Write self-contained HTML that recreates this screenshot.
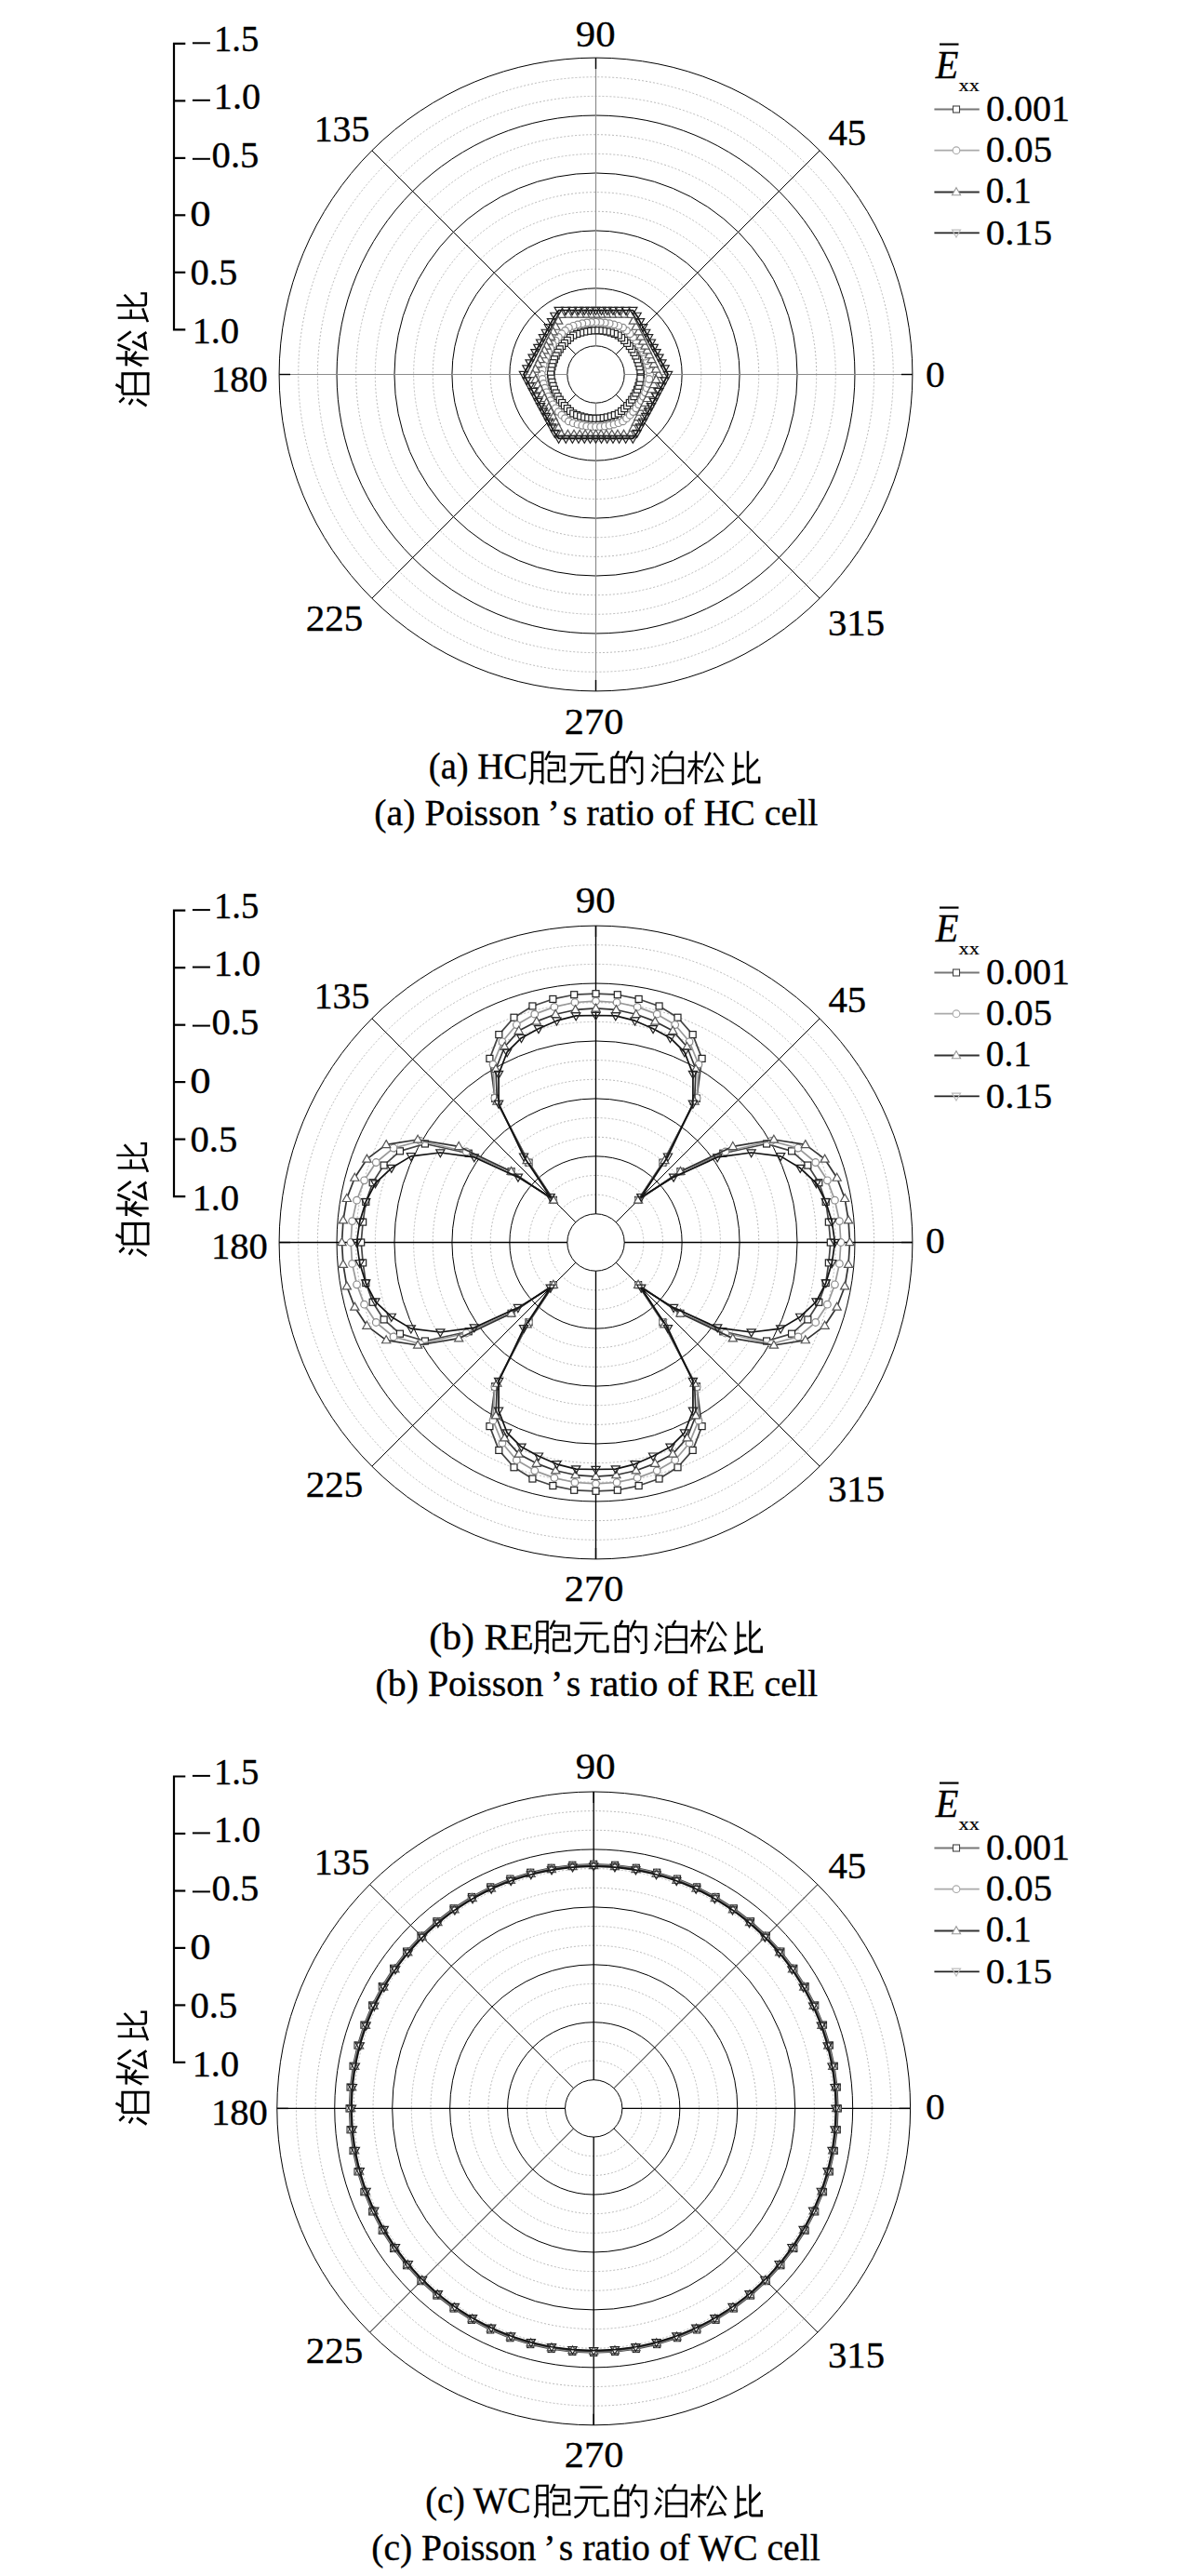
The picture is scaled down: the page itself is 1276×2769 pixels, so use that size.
<!DOCTYPE html><html><head><meta charset="utf-8"><style>html,body{margin:0;padding:0;background:#fff}svg{display:block}text{font-family:"Liberation Serif",serif;fill:#000}</style></head><body>
<svg width="1276" height="2769" viewBox="0 0 1276 2769">
<rect width="1276" height="2769" fill="#fff"/>
<circle cx="640.50" cy="402.50" r="51.35" fill="none" stroke="#a8a8a8" stroke-width="0.8" stroke-dasharray="2 2"/>
<circle cx="640.50" cy="402.50" r="71.99" fill="none" stroke="#a8a8a8" stroke-width="0.8" stroke-dasharray="2 2"/>
<circle cx="640.50" cy="402.50" r="113.29" fill="none" stroke="#a8a8a8" stroke-width="0.8" stroke-dasharray="2 2"/>
<circle cx="640.50" cy="402.50" r="133.93" fill="none" stroke="#a8a8a8" stroke-width="0.8" stroke-dasharray="2 2"/>
<circle cx="640.50" cy="402.50" r="175.23" fill="none" stroke="#a8a8a8" stroke-width="0.8" stroke-dasharray="2 2"/>
<circle cx="640.50" cy="402.50" r="195.87" fill="none" stroke="#a8a8a8" stroke-width="0.8" stroke-dasharray="2 2"/>
<circle cx="640.50" cy="402.50" r="237.17" fill="none" stroke="#a8a8a8" stroke-width="0.8" stroke-dasharray="2 2"/>
<circle cx="640.50" cy="402.50" r="257.81" fill="none" stroke="#a8a8a8" stroke-width="0.8" stroke-dasharray="2 2"/>
<circle cx="640.50" cy="402.50" r="299.11" fill="none" stroke="#a8a8a8" stroke-width="0.8" stroke-dasharray="2 2"/>
<circle cx="640.50" cy="402.50" r="319.75" fill="none" stroke="#a8a8a8" stroke-width="0.8" stroke-dasharray="2 2"/>
<circle cx="640.50" cy="402.50" r="30.70" fill="none" stroke="#000" stroke-width="1.0"/>
<circle cx="640.50" cy="402.50" r="92.64" fill="none" stroke="#000" stroke-width="1.0"/>
<circle cx="640.50" cy="402.50" r="154.58" fill="none" stroke="#000" stroke-width="1.0"/>
<circle cx="640.50" cy="402.50" r="216.52" fill="none" stroke="#000" stroke-width="1.0"/>
<circle cx="640.50" cy="402.50" r="278.46" fill="none" stroke="#000" stroke-width="1.0"/>
<circle cx="640.50" cy="402.50" r="340.40" fill="none" stroke="#000" stroke-width="1.0"/>
<line x1="671.20" y1="402.50" x2="980.90" y2="402.50" stroke="#8c8c8c" stroke-width="1.20"/>
<line x1="968.90" y1="402.50" x2="980.90" y2="402.50" stroke="#000" stroke-width="1.40"/>
<line x1="640.50" y1="371.80" x2="640.50" y2="62.10" stroke="#8c8c8c" stroke-width="1.20"/>
<line x1="640.50" y1="74.10" x2="640.50" y2="62.10" stroke="#000" stroke-width="1.40"/>
<line x1="609.80" y1="402.50" x2="300.10" y2="402.50" stroke="#8c8c8c" stroke-width="1.20"/>
<line x1="312.10" y1="402.50" x2="300.10" y2="402.50" stroke="#000" stroke-width="1.40"/>
<line x1="640.50" y1="433.20" x2="640.50" y2="742.90" stroke="#8c8c8c" stroke-width="1.20"/>
<line x1="640.50" y1="730.90" x2="640.50" y2="742.90" stroke="#000" stroke-width="1.40"/>
<line x1="662.21" y1="380.79" x2="881.20" y2="161.80" stroke="#000" stroke-width="1.0"/>
<line x1="618.79" y1="380.79" x2="399.80" y2="161.80" stroke="#000" stroke-width="1.0"/>
<line x1="618.79" y1="424.21" x2="399.80" y2="643.20" stroke="#000" stroke-width="1.0"/>
<line x1="662.21" y1="424.21" x2="881.20" y2="643.20" stroke="#000" stroke-width="1.0"/>
<path d="M689.00 402.50 L688.42 398.31 L687.57 394.20 L686.45 390.19 L685.06 386.28 L683.40 382.50 L681.46 378.85 L679.27 375.35 L676.83 372.02 L674.14 368.86 L671.22 365.88 L668.09 363.10 L664.75 360.50 L660.83 358.90 L656.85 357.58 L652.81 356.55 L648.73 355.80 L644.63 355.35 L640.50 355.20 L636.37 355.35 L632.27 355.80 L628.19 356.55 L624.15 357.58 L620.17 358.90 L616.25 360.50 L612.91 363.10 L609.78 365.88 L606.86 368.86 L604.17 372.02 L601.73 375.35 L599.54 378.85 L597.60 382.50 L595.94 386.28 L594.55 390.19 L593.43 394.20 L592.58 398.31 L592.00 402.50 L592.58 406.69 L593.43 410.80 L594.55 414.81 L595.94 418.72 L597.60 422.50 L599.54 426.15 L601.73 429.65 L604.17 432.98 L606.86 436.14 L609.78 439.12 L612.91 441.90 L616.25 444.50 L620.17 446.10 L624.15 447.42 L628.19 448.45 L632.27 449.20 L636.37 449.65 L640.50 449.80 L644.63 449.65 L648.73 449.20 L652.81 448.45 L656.85 447.42 L660.83 446.10 L664.75 444.50 L668.09 441.90 L671.22 439.12 L674.14 436.14 L676.83 432.98 L679.27 429.65 L681.46 426.15 L683.40 422.50 L685.06 418.72 L686.45 414.81 L687.57 410.80 L688.42 406.69 Z" fill="none" stroke="#444" stroke-width="1.70" stroke-linejoin="round"/>
<rect x="685.50" y="399.00" width="7" height="7" fill="#fff" stroke="#222" stroke-width="1.2"/>
<rect x="684.92" y="394.81" width="7" height="7" fill="#fff" stroke="#222" stroke-width="1.2"/>
<rect x="684.07" y="390.70" width="7" height="7" fill="#fff" stroke="#222" stroke-width="1.2"/>
<rect x="682.95" y="386.69" width="7" height="7" fill="#fff" stroke="#222" stroke-width="1.2"/>
<rect x="681.56" y="382.78" width="7" height="7" fill="#fff" stroke="#222" stroke-width="1.2"/>
<rect x="679.90" y="379.00" width="7" height="7" fill="#fff" stroke="#222" stroke-width="1.2"/>
<rect x="677.96" y="375.35" width="7" height="7" fill="#fff" stroke="#222" stroke-width="1.2"/>
<rect x="675.77" y="371.85" width="7" height="7" fill="#fff" stroke="#222" stroke-width="1.2"/>
<rect x="673.33" y="368.52" width="7" height="7" fill="#fff" stroke="#222" stroke-width="1.2"/>
<rect x="670.64" y="365.36" width="7" height="7" fill="#fff" stroke="#222" stroke-width="1.2"/>
<rect x="667.72" y="362.38" width="7" height="7" fill="#fff" stroke="#222" stroke-width="1.2"/>
<rect x="664.59" y="359.60" width="7" height="7" fill="#fff" stroke="#222" stroke-width="1.2"/>
<rect x="661.25" y="357.00" width="7" height="7" fill="#fff" stroke="#222" stroke-width="1.2"/>
<rect x="657.33" y="355.40" width="7" height="7" fill="#fff" stroke="#222" stroke-width="1.2"/>
<rect x="653.35" y="354.08" width="7" height="7" fill="#fff" stroke="#222" stroke-width="1.2"/>
<rect x="649.31" y="353.05" width="7" height="7" fill="#fff" stroke="#222" stroke-width="1.2"/>
<rect x="645.23" y="352.30" width="7" height="7" fill="#fff" stroke="#222" stroke-width="1.2"/>
<rect x="641.13" y="351.85" width="7" height="7" fill="#fff" stroke="#222" stroke-width="1.2"/>
<rect x="637.00" y="351.70" width="7" height="7" fill="#fff" stroke="#222" stroke-width="1.2"/>
<rect x="632.87" y="351.85" width="7" height="7" fill="#fff" stroke="#222" stroke-width="1.2"/>
<rect x="628.77" y="352.30" width="7" height="7" fill="#fff" stroke="#222" stroke-width="1.2"/>
<rect x="624.69" y="353.05" width="7" height="7" fill="#fff" stroke="#222" stroke-width="1.2"/>
<rect x="620.65" y="354.08" width="7" height="7" fill="#fff" stroke="#222" stroke-width="1.2"/>
<rect x="616.67" y="355.40" width="7" height="7" fill="#fff" stroke="#222" stroke-width="1.2"/>
<rect x="612.75" y="357.00" width="7" height="7" fill="#fff" stroke="#222" stroke-width="1.2"/>
<rect x="609.41" y="359.60" width="7" height="7" fill="#fff" stroke="#222" stroke-width="1.2"/>
<rect x="606.28" y="362.38" width="7" height="7" fill="#fff" stroke="#222" stroke-width="1.2"/>
<rect x="603.36" y="365.36" width="7" height="7" fill="#fff" stroke="#222" stroke-width="1.2"/>
<rect x="600.67" y="368.52" width="7" height="7" fill="#fff" stroke="#222" stroke-width="1.2"/>
<rect x="598.23" y="371.85" width="7" height="7" fill="#fff" stroke="#222" stroke-width="1.2"/>
<rect x="596.04" y="375.35" width="7" height="7" fill="#fff" stroke="#222" stroke-width="1.2"/>
<rect x="594.10" y="379.00" width="7" height="7" fill="#fff" stroke="#222" stroke-width="1.2"/>
<rect x="592.44" y="382.78" width="7" height="7" fill="#fff" stroke="#222" stroke-width="1.2"/>
<rect x="591.05" y="386.69" width="7" height="7" fill="#fff" stroke="#222" stroke-width="1.2"/>
<rect x="589.93" y="390.70" width="7" height="7" fill="#fff" stroke="#222" stroke-width="1.2"/>
<rect x="589.08" y="394.81" width="7" height="7" fill="#fff" stroke="#222" stroke-width="1.2"/>
<rect x="588.50" y="399.00" width="7" height="7" fill="#fff" stroke="#222" stroke-width="1.2"/>
<rect x="589.08" y="403.19" width="7" height="7" fill="#fff" stroke="#222" stroke-width="1.2"/>
<rect x="589.93" y="407.30" width="7" height="7" fill="#fff" stroke="#222" stroke-width="1.2"/>
<rect x="591.05" y="411.31" width="7" height="7" fill="#fff" stroke="#222" stroke-width="1.2"/>
<rect x="592.44" y="415.22" width="7" height="7" fill="#fff" stroke="#222" stroke-width="1.2"/>
<rect x="594.10" y="419.00" width="7" height="7" fill="#fff" stroke="#222" stroke-width="1.2"/>
<rect x="596.04" y="422.65" width="7" height="7" fill="#fff" stroke="#222" stroke-width="1.2"/>
<rect x="598.23" y="426.15" width="7" height="7" fill="#fff" stroke="#222" stroke-width="1.2"/>
<rect x="600.67" y="429.48" width="7" height="7" fill="#fff" stroke="#222" stroke-width="1.2"/>
<rect x="603.36" y="432.64" width="7" height="7" fill="#fff" stroke="#222" stroke-width="1.2"/>
<rect x="606.28" y="435.62" width="7" height="7" fill="#fff" stroke="#222" stroke-width="1.2"/>
<rect x="609.41" y="438.40" width="7" height="7" fill="#fff" stroke="#222" stroke-width="1.2"/>
<rect x="612.75" y="441.00" width="7" height="7" fill="#fff" stroke="#222" stroke-width="1.2"/>
<rect x="616.67" y="442.60" width="7" height="7" fill="#fff" stroke="#222" stroke-width="1.2"/>
<rect x="620.65" y="443.92" width="7" height="7" fill="#fff" stroke="#222" stroke-width="1.2"/>
<rect x="624.69" y="444.95" width="7" height="7" fill="#fff" stroke="#222" stroke-width="1.2"/>
<rect x="628.77" y="445.70" width="7" height="7" fill="#fff" stroke="#222" stroke-width="1.2"/>
<rect x="632.87" y="446.15" width="7" height="7" fill="#fff" stroke="#222" stroke-width="1.2"/>
<rect x="637.00" y="446.30" width="7" height="7" fill="#fff" stroke="#222" stroke-width="1.2"/>
<rect x="641.13" y="446.15" width="7" height="7" fill="#fff" stroke="#222" stroke-width="1.2"/>
<rect x="645.23" y="445.70" width="7" height="7" fill="#fff" stroke="#222" stroke-width="1.2"/>
<rect x="649.31" y="444.95" width="7" height="7" fill="#fff" stroke="#222" stroke-width="1.2"/>
<rect x="653.35" y="443.92" width="7" height="7" fill="#fff" stroke="#222" stroke-width="1.2"/>
<rect x="657.33" y="442.60" width="7" height="7" fill="#fff" stroke="#222" stroke-width="1.2"/>
<rect x="661.25" y="441.00" width="7" height="7" fill="#fff" stroke="#222" stroke-width="1.2"/>
<rect x="664.59" y="438.40" width="7" height="7" fill="#fff" stroke="#222" stroke-width="1.2"/>
<rect x="667.72" y="435.62" width="7" height="7" fill="#fff" stroke="#222" stroke-width="1.2"/>
<rect x="670.64" y="432.64" width="7" height="7" fill="#fff" stroke="#222" stroke-width="1.2"/>
<rect x="673.33" y="429.48" width="7" height="7" fill="#fff" stroke="#222" stroke-width="1.2"/>
<rect x="675.77" y="426.15" width="7" height="7" fill="#fff" stroke="#222" stroke-width="1.2"/>
<rect x="677.96" y="422.65" width="7" height="7" fill="#fff" stroke="#222" stroke-width="1.2"/>
<rect x="679.90" y="419.00" width="7" height="7" fill="#fff" stroke="#222" stroke-width="1.2"/>
<rect x="681.56" y="415.22" width="7" height="7" fill="#fff" stroke="#222" stroke-width="1.2"/>
<rect x="682.95" y="411.31" width="7" height="7" fill="#fff" stroke="#222" stroke-width="1.2"/>
<rect x="684.07" y="407.30" width="7" height="7" fill="#fff" stroke="#222" stroke-width="1.2"/>
<rect x="684.92" y="403.19" width="7" height="7" fill="#fff" stroke="#222" stroke-width="1.2"/>
<path d="M698.70 402.50 L697.85 397.48 L696.72 392.59 L695.30 387.82 L693.58 383.18 L691.57 378.69 L689.26 374.35 L686.66 370.18 L683.77 366.19 L680.62 362.38 L677.20 358.77 L673.52 355.34 L669.60 352.10 L664.83 350.32 L660.03 348.85 L655.18 347.70 L650.31 346.87 L645.41 346.37 L640.50 346.20 L635.59 346.37 L630.69 346.87 L625.82 347.70 L620.97 348.85 L616.17 350.32 L611.40 352.10 L607.48 355.34 L603.80 358.77 L600.38 362.38 L597.23 366.19 L594.34 370.18 L591.74 374.35 L589.43 378.69 L587.42 383.18 L585.70 387.82 L584.28 392.59 L583.15 397.48 L582.30 402.50 L583.15 407.52 L584.28 412.41 L585.70 417.18 L587.42 421.82 L589.43 426.31 L591.74 430.65 L594.34 434.82 L597.23 438.81 L600.38 442.62 L603.80 446.23 L607.48 449.66 L611.40 452.90 L616.17 454.68 L620.97 456.15 L625.82 457.30 L630.69 458.13 L635.59 458.63 L640.50 458.80 L645.41 458.63 L650.31 458.13 L655.18 457.30 L660.03 456.15 L664.83 454.68 L669.60 452.90 L673.52 449.66 L677.20 446.23 L680.62 442.62 L683.77 438.81 L686.66 434.82 L689.26 430.65 L691.57 426.31 L693.58 421.82 L695.30 417.18 L696.72 412.41 L697.85 407.52 Z" fill="none" stroke="#999" stroke-width="1.70" stroke-linejoin="round"/>
<circle cx="698.70" cy="402.50" r="3.8" fill="#fff" stroke="#8a8a8a" stroke-width="1.2"/>
<circle cx="697.85" cy="397.48" r="3.8" fill="#fff" stroke="#8a8a8a" stroke-width="1.2"/>
<circle cx="696.72" cy="392.59" r="3.8" fill="#fff" stroke="#8a8a8a" stroke-width="1.2"/>
<circle cx="695.30" cy="387.82" r="3.8" fill="#fff" stroke="#8a8a8a" stroke-width="1.2"/>
<circle cx="693.58" cy="383.18" r="3.8" fill="#fff" stroke="#8a8a8a" stroke-width="1.2"/>
<circle cx="691.57" cy="378.69" r="3.8" fill="#fff" stroke="#8a8a8a" stroke-width="1.2"/>
<circle cx="689.26" cy="374.35" r="3.8" fill="#fff" stroke="#8a8a8a" stroke-width="1.2"/>
<circle cx="686.66" cy="370.18" r="3.8" fill="#fff" stroke="#8a8a8a" stroke-width="1.2"/>
<circle cx="683.77" cy="366.19" r="3.8" fill="#fff" stroke="#8a8a8a" stroke-width="1.2"/>
<circle cx="680.62" cy="362.38" r="3.8" fill="#fff" stroke="#8a8a8a" stroke-width="1.2"/>
<circle cx="677.20" cy="358.77" r="3.8" fill="#fff" stroke="#8a8a8a" stroke-width="1.2"/>
<circle cx="673.52" cy="355.34" r="3.8" fill="#fff" stroke="#8a8a8a" stroke-width="1.2"/>
<circle cx="669.60" cy="352.10" r="3.8" fill="#fff" stroke="#8a8a8a" stroke-width="1.2"/>
<circle cx="664.83" cy="350.32" r="3.8" fill="#fff" stroke="#8a8a8a" stroke-width="1.2"/>
<circle cx="660.03" cy="348.85" r="3.8" fill="#fff" stroke="#8a8a8a" stroke-width="1.2"/>
<circle cx="655.18" cy="347.70" r="3.8" fill="#fff" stroke="#8a8a8a" stroke-width="1.2"/>
<circle cx="650.31" cy="346.87" r="3.8" fill="#fff" stroke="#8a8a8a" stroke-width="1.2"/>
<circle cx="645.41" cy="346.37" r="3.8" fill="#fff" stroke="#8a8a8a" stroke-width="1.2"/>
<circle cx="640.50" cy="346.20" r="3.8" fill="#fff" stroke="#8a8a8a" stroke-width="1.2"/>
<circle cx="635.59" cy="346.37" r="3.8" fill="#fff" stroke="#8a8a8a" stroke-width="1.2"/>
<circle cx="630.69" cy="346.87" r="3.8" fill="#fff" stroke="#8a8a8a" stroke-width="1.2"/>
<circle cx="625.82" cy="347.70" r="3.8" fill="#fff" stroke="#8a8a8a" stroke-width="1.2"/>
<circle cx="620.97" cy="348.85" r="3.8" fill="#fff" stroke="#8a8a8a" stroke-width="1.2"/>
<circle cx="616.17" cy="350.32" r="3.8" fill="#fff" stroke="#8a8a8a" stroke-width="1.2"/>
<circle cx="611.40" cy="352.10" r="3.8" fill="#fff" stroke="#8a8a8a" stroke-width="1.2"/>
<circle cx="607.48" cy="355.34" r="3.8" fill="#fff" stroke="#8a8a8a" stroke-width="1.2"/>
<circle cx="603.80" cy="358.77" r="3.8" fill="#fff" stroke="#8a8a8a" stroke-width="1.2"/>
<circle cx="600.38" cy="362.38" r="3.8" fill="#fff" stroke="#8a8a8a" stroke-width="1.2"/>
<circle cx="597.23" cy="366.19" r="3.8" fill="#fff" stroke="#8a8a8a" stroke-width="1.2"/>
<circle cx="594.34" cy="370.18" r="3.8" fill="#fff" stroke="#8a8a8a" stroke-width="1.2"/>
<circle cx="591.74" cy="374.35" r="3.8" fill="#fff" stroke="#8a8a8a" stroke-width="1.2"/>
<circle cx="589.43" cy="378.69" r="3.8" fill="#fff" stroke="#8a8a8a" stroke-width="1.2"/>
<circle cx="587.42" cy="383.18" r="3.8" fill="#fff" stroke="#8a8a8a" stroke-width="1.2"/>
<circle cx="585.70" cy="387.82" r="3.8" fill="#fff" stroke="#8a8a8a" stroke-width="1.2"/>
<circle cx="584.28" cy="392.59" r="3.8" fill="#fff" stroke="#8a8a8a" stroke-width="1.2"/>
<circle cx="583.15" cy="397.48" r="3.8" fill="#fff" stroke="#8a8a8a" stroke-width="1.2"/>
<circle cx="582.30" cy="402.50" r="3.8" fill="#fff" stroke="#8a8a8a" stroke-width="1.2"/>
<circle cx="583.15" cy="407.52" r="3.8" fill="#fff" stroke="#8a8a8a" stroke-width="1.2"/>
<circle cx="584.28" cy="412.41" r="3.8" fill="#fff" stroke="#8a8a8a" stroke-width="1.2"/>
<circle cx="585.70" cy="417.18" r="3.8" fill="#fff" stroke="#8a8a8a" stroke-width="1.2"/>
<circle cx="587.42" cy="421.82" r="3.8" fill="#fff" stroke="#8a8a8a" stroke-width="1.2"/>
<circle cx="589.43" cy="426.31" r="3.8" fill="#fff" stroke="#8a8a8a" stroke-width="1.2"/>
<circle cx="591.74" cy="430.65" r="3.8" fill="#fff" stroke="#8a8a8a" stroke-width="1.2"/>
<circle cx="594.34" cy="434.82" r="3.8" fill="#fff" stroke="#8a8a8a" stroke-width="1.2"/>
<circle cx="597.23" cy="438.81" r="3.8" fill="#fff" stroke="#8a8a8a" stroke-width="1.2"/>
<circle cx="600.38" cy="442.62" r="3.8" fill="#fff" stroke="#8a8a8a" stroke-width="1.2"/>
<circle cx="603.80" cy="446.23" r="3.8" fill="#fff" stroke="#8a8a8a" stroke-width="1.2"/>
<circle cx="607.48" cy="449.66" r="3.8" fill="#fff" stroke="#8a8a8a" stroke-width="1.2"/>
<circle cx="611.40" cy="452.90" r="3.8" fill="#fff" stroke="#8a8a8a" stroke-width="1.2"/>
<circle cx="616.17" cy="454.68" r="3.8" fill="#fff" stroke="#8a8a8a" stroke-width="1.2"/>
<circle cx="620.97" cy="456.15" r="3.8" fill="#fff" stroke="#8a8a8a" stroke-width="1.2"/>
<circle cx="625.82" cy="457.30" r="3.8" fill="#fff" stroke="#8a8a8a" stroke-width="1.2"/>
<circle cx="630.69" cy="458.13" r="3.8" fill="#fff" stroke="#8a8a8a" stroke-width="1.2"/>
<circle cx="635.59" cy="458.63" r="3.8" fill="#fff" stroke="#8a8a8a" stroke-width="1.2"/>
<circle cx="640.50" cy="458.80" r="3.8" fill="#fff" stroke="#8a8a8a" stroke-width="1.2"/>
<circle cx="645.41" cy="458.63" r="3.8" fill="#fff" stroke="#8a8a8a" stroke-width="1.2"/>
<circle cx="650.31" cy="458.13" r="3.8" fill="#fff" stroke="#8a8a8a" stroke-width="1.2"/>
<circle cx="655.18" cy="457.30" r="3.8" fill="#fff" stroke="#8a8a8a" stroke-width="1.2"/>
<circle cx="660.03" cy="456.15" r="3.8" fill="#fff" stroke="#8a8a8a" stroke-width="1.2"/>
<circle cx="664.83" cy="454.68" r="3.8" fill="#fff" stroke="#8a8a8a" stroke-width="1.2"/>
<circle cx="669.60" cy="452.90" r="3.8" fill="#fff" stroke="#8a8a8a" stroke-width="1.2"/>
<circle cx="673.52" cy="449.66" r="3.8" fill="#fff" stroke="#8a8a8a" stroke-width="1.2"/>
<circle cx="677.20" cy="446.23" r="3.8" fill="#fff" stroke="#8a8a8a" stroke-width="1.2"/>
<circle cx="680.62" cy="442.62" r="3.8" fill="#fff" stroke="#8a8a8a" stroke-width="1.2"/>
<circle cx="683.77" cy="438.81" r="3.8" fill="#fff" stroke="#8a8a8a" stroke-width="1.2"/>
<circle cx="686.66" cy="434.82" r="3.8" fill="#fff" stroke="#8a8a8a" stroke-width="1.2"/>
<circle cx="689.26" cy="430.65" r="3.8" fill="#fff" stroke="#8a8a8a" stroke-width="1.2"/>
<circle cx="691.57" cy="426.31" r="3.8" fill="#fff" stroke="#8a8a8a" stroke-width="1.2"/>
<circle cx="693.58" cy="421.82" r="3.8" fill="#fff" stroke="#8a8a8a" stroke-width="1.2"/>
<circle cx="695.30" cy="417.18" r="3.8" fill="#fff" stroke="#8a8a8a" stroke-width="1.2"/>
<circle cx="696.72" cy="412.41" r="3.8" fill="#fff" stroke="#8a8a8a" stroke-width="1.2"/>
<circle cx="697.85" cy="407.52" r="3.8" fill="#fff" stroke="#8a8a8a" stroke-width="1.2"/>
<path d="M708.00 402.50 L705.32 396.83 L702.81 391.51 L700.41 386.45 L698.09 381.54 L695.81 376.71 L693.52 371.89 L691.21 366.99 L688.83 361.95 L686.33 356.67 L683.67 351.05 L680.79 344.96 L677.61 338.23 L670.58 338.00 L663.98 338.00 L657.78 338.00 L651.87 338.00 L646.14 338.00 L640.50 338.00 L634.86 338.00 L629.13 338.00 L623.22 338.00 L617.02 338.00 L610.42 338.00 L603.39 338.23 L600.21 344.96 L597.33 351.05 L594.67 356.67 L592.17 361.95 L589.79 366.99 L587.48 371.89 L585.19 376.71 L582.91 381.54 L580.59 386.45 L578.19 391.51 L575.68 396.83 L573.00 402.50 L575.68 408.17 L578.19 413.49 L580.59 418.55 L582.91 423.46 L585.19 428.29 L587.48 433.11 L589.79 438.01 L592.17 443.05 L594.67 448.33 L597.33 453.95 L600.21 460.04 L603.39 466.77 L610.42 467.00 L617.02 467.00 L623.22 467.00 L629.13 467.00 L634.86 467.00 L640.50 467.00 L646.14 467.00 L651.87 467.00 L657.78 467.00 L663.98 467.00 L670.58 467.00 L677.61 466.77 L680.79 460.04 L683.67 453.95 L686.33 448.33 L688.83 443.05 L691.21 438.01 L693.52 433.11 L695.81 428.29 L698.09 423.46 L700.41 418.55 L702.81 413.49 L705.32 408.17 Z" fill="none" stroke="#333" stroke-width="1.70" stroke-linejoin="round"/>
<path d="M708.00 397.70l4.6 8h-9.2z" fill="#fff" stroke="#555" stroke-width="1.2"/>
<path d="M705.32 392.03l4.6 8h-9.2z" fill="#fff" stroke="#555" stroke-width="1.2"/>
<path d="M702.81 386.71l4.6 8h-9.2z" fill="#fff" stroke="#555" stroke-width="1.2"/>
<path d="M700.41 381.65l4.6 8h-9.2z" fill="#fff" stroke="#555" stroke-width="1.2"/>
<path d="M698.09 376.74l4.6 8h-9.2z" fill="#fff" stroke="#555" stroke-width="1.2"/>
<path d="M695.81 371.91l4.6 8h-9.2z" fill="#fff" stroke="#555" stroke-width="1.2"/>
<path d="M693.52 367.09l4.6 8h-9.2z" fill="#fff" stroke="#555" stroke-width="1.2"/>
<path d="M691.21 362.19l4.6 8h-9.2z" fill="#fff" stroke="#555" stroke-width="1.2"/>
<path d="M688.83 357.15l4.6 8h-9.2z" fill="#fff" stroke="#555" stroke-width="1.2"/>
<path d="M686.33 351.87l4.6 8h-9.2z" fill="#fff" stroke="#555" stroke-width="1.2"/>
<path d="M683.67 346.25l4.6 8h-9.2z" fill="#fff" stroke="#555" stroke-width="1.2"/>
<path d="M680.79 340.16l4.6 8h-9.2z" fill="#fff" stroke="#555" stroke-width="1.2"/>
<path d="M677.61 333.43l4.6 8h-9.2z" fill="#fff" stroke="#555" stroke-width="1.2"/>
<path d="M670.58 333.20l4.6 8h-9.2z" fill="#fff" stroke="#555" stroke-width="1.2"/>
<path d="M663.98 333.20l4.6 8h-9.2z" fill="#fff" stroke="#555" stroke-width="1.2"/>
<path d="M657.78 333.20l4.6 8h-9.2z" fill="#fff" stroke="#555" stroke-width="1.2"/>
<path d="M651.87 333.20l4.6 8h-9.2z" fill="#fff" stroke="#555" stroke-width="1.2"/>
<path d="M646.14 333.20l4.6 8h-9.2z" fill="#fff" stroke="#555" stroke-width="1.2"/>
<path d="M640.50 333.20l4.6 8h-9.2z" fill="#fff" stroke="#555" stroke-width="1.2"/>
<path d="M634.86 333.20l4.6 8h-9.2z" fill="#fff" stroke="#555" stroke-width="1.2"/>
<path d="M629.13 333.20l4.6 8h-9.2z" fill="#fff" stroke="#555" stroke-width="1.2"/>
<path d="M623.22 333.20l4.6 8h-9.2z" fill="#fff" stroke="#555" stroke-width="1.2"/>
<path d="M617.02 333.20l4.6 8h-9.2z" fill="#fff" stroke="#555" stroke-width="1.2"/>
<path d="M610.42 333.20l4.6 8h-9.2z" fill="#fff" stroke="#555" stroke-width="1.2"/>
<path d="M603.39 333.43l4.6 8h-9.2z" fill="#fff" stroke="#555" stroke-width="1.2"/>
<path d="M600.21 340.16l4.6 8h-9.2z" fill="#fff" stroke="#555" stroke-width="1.2"/>
<path d="M597.33 346.25l4.6 8h-9.2z" fill="#fff" stroke="#555" stroke-width="1.2"/>
<path d="M594.67 351.87l4.6 8h-9.2z" fill="#fff" stroke="#555" stroke-width="1.2"/>
<path d="M592.17 357.15l4.6 8h-9.2z" fill="#fff" stroke="#555" stroke-width="1.2"/>
<path d="M589.79 362.19l4.6 8h-9.2z" fill="#fff" stroke="#555" stroke-width="1.2"/>
<path d="M587.48 367.09l4.6 8h-9.2z" fill="#fff" stroke="#555" stroke-width="1.2"/>
<path d="M585.19 371.91l4.6 8h-9.2z" fill="#fff" stroke="#555" stroke-width="1.2"/>
<path d="M582.91 376.74l4.6 8h-9.2z" fill="#fff" stroke="#555" stroke-width="1.2"/>
<path d="M580.59 381.65l4.6 8h-9.2z" fill="#fff" stroke="#555" stroke-width="1.2"/>
<path d="M578.19 386.71l4.6 8h-9.2z" fill="#fff" stroke="#555" stroke-width="1.2"/>
<path d="M575.68 392.03l4.6 8h-9.2z" fill="#fff" stroke="#555" stroke-width="1.2"/>
<path d="M573.00 397.70l4.6 8h-9.2z" fill="#fff" stroke="#555" stroke-width="1.2"/>
<path d="M575.68 403.37l4.6 8h-9.2z" fill="#fff" stroke="#555" stroke-width="1.2"/>
<path d="M578.19 408.69l4.6 8h-9.2z" fill="#fff" stroke="#555" stroke-width="1.2"/>
<path d="M580.59 413.75l4.6 8h-9.2z" fill="#fff" stroke="#555" stroke-width="1.2"/>
<path d="M582.91 418.66l4.6 8h-9.2z" fill="#fff" stroke="#555" stroke-width="1.2"/>
<path d="M585.19 423.49l4.6 8h-9.2z" fill="#fff" stroke="#555" stroke-width="1.2"/>
<path d="M587.48 428.31l4.6 8h-9.2z" fill="#fff" stroke="#555" stroke-width="1.2"/>
<path d="M589.79 433.21l4.6 8h-9.2z" fill="#fff" stroke="#555" stroke-width="1.2"/>
<path d="M592.17 438.25l4.6 8h-9.2z" fill="#fff" stroke="#555" stroke-width="1.2"/>
<path d="M594.67 443.53l4.6 8h-9.2z" fill="#fff" stroke="#555" stroke-width="1.2"/>
<path d="M597.33 449.15l4.6 8h-9.2z" fill="#fff" stroke="#555" stroke-width="1.2"/>
<path d="M600.21 455.24l4.6 8h-9.2z" fill="#fff" stroke="#555" stroke-width="1.2"/>
<path d="M603.39 461.97l4.6 8h-9.2z" fill="#fff" stroke="#555" stroke-width="1.2"/>
<path d="M610.42 462.20l4.6 8h-9.2z" fill="#fff" stroke="#555" stroke-width="1.2"/>
<path d="M617.02 462.20l4.6 8h-9.2z" fill="#fff" stroke="#555" stroke-width="1.2"/>
<path d="M623.22 462.20l4.6 8h-9.2z" fill="#fff" stroke="#555" stroke-width="1.2"/>
<path d="M629.13 462.20l4.6 8h-9.2z" fill="#fff" stroke="#555" stroke-width="1.2"/>
<path d="M634.86 462.20l4.6 8h-9.2z" fill="#fff" stroke="#555" stroke-width="1.2"/>
<path d="M640.50 462.20l4.6 8h-9.2z" fill="#fff" stroke="#555" stroke-width="1.2"/>
<path d="M646.14 462.20l4.6 8h-9.2z" fill="#fff" stroke="#555" stroke-width="1.2"/>
<path d="M651.87 462.20l4.6 8h-9.2z" fill="#fff" stroke="#555" stroke-width="1.2"/>
<path d="M657.78 462.20l4.6 8h-9.2z" fill="#fff" stroke="#555" stroke-width="1.2"/>
<path d="M663.98 462.20l4.6 8h-9.2z" fill="#fff" stroke="#555" stroke-width="1.2"/>
<path d="M670.58 462.20l4.6 8h-9.2z" fill="#fff" stroke="#555" stroke-width="1.2"/>
<path d="M677.61 461.97l4.6 8h-9.2z" fill="#fff" stroke="#555" stroke-width="1.2"/>
<path d="M680.79 455.24l4.6 8h-9.2z" fill="#fff" stroke="#555" stroke-width="1.2"/>
<path d="M683.67 449.15l4.6 8h-9.2z" fill="#fff" stroke="#555" stroke-width="1.2"/>
<path d="M686.33 443.53l4.6 8h-9.2z" fill="#fff" stroke="#555" stroke-width="1.2"/>
<path d="M688.83 438.25l4.6 8h-9.2z" fill="#fff" stroke="#555" stroke-width="1.2"/>
<path d="M691.21 433.21l4.6 8h-9.2z" fill="#fff" stroke="#555" stroke-width="1.2"/>
<path d="M693.52 428.31l4.6 8h-9.2z" fill="#fff" stroke="#555" stroke-width="1.2"/>
<path d="M695.81 423.49l4.6 8h-9.2z" fill="#fff" stroke="#555" stroke-width="1.2"/>
<path d="M698.09 418.66l4.6 8h-9.2z" fill="#fff" stroke="#555" stroke-width="1.2"/>
<path d="M700.41 413.75l4.6 8h-9.2z" fill="#fff" stroke="#555" stroke-width="1.2"/>
<path d="M702.81 408.69l4.6 8h-9.2z" fill="#fff" stroke="#555" stroke-width="1.2"/>
<path d="M705.32 403.37l4.6 8h-9.2z" fill="#fff" stroke="#555" stroke-width="1.2"/>
<path d="M718.10 402.50 L714.66 396.01 L711.46 389.99 L708.44 384.29 L705.54 378.83 L702.71 373.49 L699.91 368.20 L697.08 362.88 L694.20 357.44 L691.20 351.80 L688.04 345.84 L684.65 339.44 L680.34 333.50 L672.68 333.50 L665.61 333.50 L658.99 333.50 L652.67 333.50 L646.54 333.50 L640.50 333.50 L634.46 333.50 L628.33 333.50 L622.01 333.50 L615.39 333.50 L608.32 333.50 L600.66 333.50 L596.35 339.44 L592.96 345.84 L589.80 351.80 L586.80 357.44 L583.92 362.88 L581.09 368.20 L578.29 373.49 L575.46 378.83 L572.56 384.29 L569.54 389.99 L566.34 396.01 L562.90 402.50 L566.34 408.99 L569.54 415.01 L572.56 420.71 L575.46 426.17 L578.29 431.51 L581.09 436.80 L583.92 442.12 L586.80 447.56 L589.80 453.20 L592.96 459.16 L596.35 465.56 L600.66 471.50 L608.32 471.50 L615.39 471.50 L622.01 471.50 L628.33 471.50 L634.46 471.50 L640.50 471.50 L646.54 471.50 L652.67 471.50 L658.99 471.50 L665.61 471.50 L672.68 471.50 L680.34 471.50 L684.65 465.56 L688.04 459.16 L691.20 453.20 L694.20 447.56 L697.08 442.12 L699.91 436.80 L702.71 431.51 L705.54 426.17 L708.44 420.71 L711.46 415.01 L714.66 408.99 Z" fill="none" stroke="#111" stroke-width="1.70" stroke-linejoin="round"/>
<path d="M718.10 407.30l4.6 -8h-9.2z" fill="none" stroke="#222" stroke-width="1.2"/>
<path d="M714.66 400.81l4.6 -8h-9.2z" fill="none" stroke="#222" stroke-width="1.2"/>
<path d="M711.46 394.79l4.6 -8h-9.2z" fill="none" stroke="#222" stroke-width="1.2"/>
<path d="M708.44 389.09l4.6 -8h-9.2z" fill="none" stroke="#222" stroke-width="1.2"/>
<path d="M705.54 383.63l4.6 -8h-9.2z" fill="none" stroke="#222" stroke-width="1.2"/>
<path d="M702.71 378.29l4.6 -8h-9.2z" fill="none" stroke="#222" stroke-width="1.2"/>
<path d="M699.91 373.00l4.6 -8h-9.2z" fill="none" stroke="#222" stroke-width="1.2"/>
<path d="M697.08 367.68l4.6 -8h-9.2z" fill="none" stroke="#222" stroke-width="1.2"/>
<path d="M694.20 362.24l4.6 -8h-9.2z" fill="none" stroke="#222" stroke-width="1.2"/>
<path d="M691.20 356.60l4.6 -8h-9.2z" fill="none" stroke="#222" stroke-width="1.2"/>
<path d="M688.04 350.64l4.6 -8h-9.2z" fill="none" stroke="#222" stroke-width="1.2"/>
<path d="M684.65 344.24l4.6 -8h-9.2z" fill="none" stroke="#222" stroke-width="1.2"/>
<path d="M680.34 338.30l4.6 -8h-9.2z" fill="none" stroke="#222" stroke-width="1.2"/>
<path d="M672.68 338.30l4.6 -8h-9.2z" fill="none" stroke="#222" stroke-width="1.2"/>
<path d="M665.61 338.30l4.6 -8h-9.2z" fill="none" stroke="#222" stroke-width="1.2"/>
<path d="M658.99 338.30l4.6 -8h-9.2z" fill="none" stroke="#222" stroke-width="1.2"/>
<path d="M652.67 338.30l4.6 -8h-9.2z" fill="none" stroke="#222" stroke-width="1.2"/>
<path d="M646.54 338.30l4.6 -8h-9.2z" fill="none" stroke="#222" stroke-width="1.2"/>
<path d="M640.50 338.30l4.6 -8h-9.2z" fill="none" stroke="#222" stroke-width="1.2"/>
<path d="M634.46 338.30l4.6 -8h-9.2z" fill="none" stroke="#222" stroke-width="1.2"/>
<path d="M628.33 338.30l4.6 -8h-9.2z" fill="none" stroke="#222" stroke-width="1.2"/>
<path d="M622.01 338.30l4.6 -8h-9.2z" fill="none" stroke="#222" stroke-width="1.2"/>
<path d="M615.39 338.30l4.6 -8h-9.2z" fill="none" stroke="#222" stroke-width="1.2"/>
<path d="M608.32 338.30l4.6 -8h-9.2z" fill="none" stroke="#222" stroke-width="1.2"/>
<path d="M600.66 338.30l4.6 -8h-9.2z" fill="none" stroke="#222" stroke-width="1.2"/>
<path d="M596.35 344.24l4.6 -8h-9.2z" fill="none" stroke="#222" stroke-width="1.2"/>
<path d="M592.96 350.64l4.6 -8h-9.2z" fill="none" stroke="#222" stroke-width="1.2"/>
<path d="M589.80 356.60l4.6 -8h-9.2z" fill="none" stroke="#222" stroke-width="1.2"/>
<path d="M586.80 362.24l4.6 -8h-9.2z" fill="none" stroke="#222" stroke-width="1.2"/>
<path d="M583.92 367.68l4.6 -8h-9.2z" fill="none" stroke="#222" stroke-width="1.2"/>
<path d="M581.09 373.00l4.6 -8h-9.2z" fill="none" stroke="#222" stroke-width="1.2"/>
<path d="M578.29 378.29l4.6 -8h-9.2z" fill="none" stroke="#222" stroke-width="1.2"/>
<path d="M575.46 383.63l4.6 -8h-9.2z" fill="none" stroke="#222" stroke-width="1.2"/>
<path d="M572.56 389.09l4.6 -8h-9.2z" fill="none" stroke="#222" stroke-width="1.2"/>
<path d="M569.54 394.79l4.6 -8h-9.2z" fill="none" stroke="#222" stroke-width="1.2"/>
<path d="M566.34 400.81l4.6 -8h-9.2z" fill="none" stroke="#222" stroke-width="1.2"/>
<path d="M562.90 407.30l4.6 -8h-9.2z" fill="none" stroke="#222" stroke-width="1.2"/>
<path d="M566.34 413.79l4.6 -8h-9.2z" fill="none" stroke="#222" stroke-width="1.2"/>
<path d="M569.54 419.81l4.6 -8h-9.2z" fill="none" stroke="#222" stroke-width="1.2"/>
<path d="M572.56 425.51l4.6 -8h-9.2z" fill="none" stroke="#222" stroke-width="1.2"/>
<path d="M575.46 430.97l4.6 -8h-9.2z" fill="none" stroke="#222" stroke-width="1.2"/>
<path d="M578.29 436.31l4.6 -8h-9.2z" fill="none" stroke="#222" stroke-width="1.2"/>
<path d="M581.09 441.60l4.6 -8h-9.2z" fill="none" stroke="#222" stroke-width="1.2"/>
<path d="M583.92 446.92l4.6 -8h-9.2z" fill="none" stroke="#222" stroke-width="1.2"/>
<path d="M586.80 452.36l4.6 -8h-9.2z" fill="none" stroke="#222" stroke-width="1.2"/>
<path d="M589.80 458.00l4.6 -8h-9.2z" fill="none" stroke="#222" stroke-width="1.2"/>
<path d="M592.96 463.96l4.6 -8h-9.2z" fill="none" stroke="#222" stroke-width="1.2"/>
<path d="M596.35 470.36l4.6 -8h-9.2z" fill="none" stroke="#222" stroke-width="1.2"/>
<path d="M600.66 476.30l4.6 -8h-9.2z" fill="none" stroke="#222" stroke-width="1.2"/>
<path d="M608.32 476.30l4.6 -8h-9.2z" fill="none" stroke="#222" stroke-width="1.2"/>
<path d="M615.39 476.30l4.6 -8h-9.2z" fill="none" stroke="#222" stroke-width="1.2"/>
<path d="M622.01 476.30l4.6 -8h-9.2z" fill="none" stroke="#222" stroke-width="1.2"/>
<path d="M628.33 476.30l4.6 -8h-9.2z" fill="none" stroke="#222" stroke-width="1.2"/>
<path d="M634.46 476.30l4.6 -8h-9.2z" fill="none" stroke="#222" stroke-width="1.2"/>
<path d="M640.50 476.30l4.6 -8h-9.2z" fill="none" stroke="#222" stroke-width="1.2"/>
<path d="M646.54 476.30l4.6 -8h-9.2z" fill="none" stroke="#222" stroke-width="1.2"/>
<path d="M652.67 476.30l4.6 -8h-9.2z" fill="none" stroke="#222" stroke-width="1.2"/>
<path d="M658.99 476.30l4.6 -8h-9.2z" fill="none" stroke="#222" stroke-width="1.2"/>
<path d="M665.61 476.30l4.6 -8h-9.2z" fill="none" stroke="#222" stroke-width="1.2"/>
<path d="M672.68 476.30l4.6 -8h-9.2z" fill="none" stroke="#222" stroke-width="1.2"/>
<path d="M680.34 476.30l4.6 -8h-9.2z" fill="none" stroke="#222" stroke-width="1.2"/>
<path d="M684.65 470.36l4.6 -8h-9.2z" fill="none" stroke="#222" stroke-width="1.2"/>
<path d="M688.04 463.96l4.6 -8h-9.2z" fill="none" stroke="#222" stroke-width="1.2"/>
<path d="M691.20 458.00l4.6 -8h-9.2z" fill="none" stroke="#222" stroke-width="1.2"/>
<path d="M694.20 452.36l4.6 -8h-9.2z" fill="none" stroke="#222" stroke-width="1.2"/>
<path d="M697.08 446.92l4.6 -8h-9.2z" fill="none" stroke="#222" stroke-width="1.2"/>
<path d="M699.91 441.60l4.6 -8h-9.2z" fill="none" stroke="#222" stroke-width="1.2"/>
<path d="M702.71 436.31l4.6 -8h-9.2z" fill="none" stroke="#222" stroke-width="1.2"/>
<path d="M705.54 430.97l4.6 -8h-9.2z" fill="none" stroke="#222" stroke-width="1.2"/>
<path d="M708.44 425.51l4.6 -8h-9.2z" fill="none" stroke="#222" stroke-width="1.2"/>
<path d="M711.46 419.81l4.6 -8h-9.2z" fill="none" stroke="#222" stroke-width="1.2"/>
<path d="M714.66 413.79l4.6 -8h-9.2z" fill="none" stroke="#222" stroke-width="1.2"/>
<path d="M199.3 46.9 H187.0 V354.3 H199.3" fill="none" stroke="#000" stroke-width="2.2"/>
<line x1="187.0" y1="108.4" x2="199.3" y2="108.4" stroke="#000" stroke-width="2.2"/>
<line x1="187.0" y1="169.9" x2="199.3" y2="169.9" stroke="#000" stroke-width="2.2"/>
<line x1="187.0" y1="231.3" x2="199.3" y2="231.3" stroke="#000" stroke-width="2.2"/>
<line x1="187.0" y1="292.8" x2="199.3" y2="292.8" stroke="#000" stroke-width="2.2"/>
<line x1="206.9" y1="46.3" x2="225.9" y2="46.3" stroke="#000" stroke-width="2"/>
<line x1="206.9" y1="107.8" x2="225.9" y2="107.8" stroke="#000" stroke-width="2"/>
<line x1="206.9" y1="170.8" x2="225.9" y2="170.8" stroke="#000" stroke-width="2"/>
<g transform="matrix(0 -0.3198 0.3500 0 124.60 346.74)" fill="none" stroke="#000" stroke-width="7.43"><path d="M16 6 V90"/><path d="M16 46 H44"/><path d="M2 98 L48 82"/><path d="M58 2 V86 Q58 92 66 92 H98 V76"/><path d="M94 26 L60 54"/></g>
<g transform="matrix(0 -0.3854 0.3635 0 124.07 394.07)" fill="none" stroke="#000" stroke-width="7.15"><path d="M2 32 H44"/><path d="M23 2 V98"/><path d="M22 38 L2 78"/><path d="M26 48 L42 62"/><path d="M62 6 L46 44"/><path d="M72 8 L98 46"/><path d="M70 50 L50 90 L92 84"/><path d="M80 66 L96 92"/></g>
<g transform="matrix(0 -0.4145 0.3760 0 123.75 438.27)" fill="none" stroke="#000" stroke-width="6.91"><path d="M14 12 L26 26"/><path d="M8 40 L22 50"/><path d="M5 90 L22 62"/><path d="M60 2 L52 18"/><path d="M36 21 V98"/><path d="M36 21 H88 V98"/><path d="M36 58 H88"/><path d="M36 94 H88"/></g>
<line x1="1010" y1="47.6" x2="1030.5" y2="47.6" stroke="#000" stroke-width="2.2"/>
<line x1="1004.4" y1="117.5" x2="1052.8" y2="117.5" stroke="#777" stroke-width="1.8"/>
<rect x="1024.50" y="114.00" width="7" height="7" fill="#fff" stroke="#444" stroke-width="1.1"/>
<line x1="1004.4" y1="161.7" x2="1052.8" y2="161.7" stroke="#aaa" stroke-width="1.8"/>
<circle cx="1028.00" cy="161.70" r="3.8" fill="#fff" stroke="#aaa" stroke-width="1.1"/>
<line x1="1004.4" y1="206.5" x2="1052.8" y2="206.5" stroke="#333" stroke-width="1.8"/>
<path d="M1028.00 201.70l4.6 8h-9.2z" fill="#fff" stroke="#999" stroke-width="1.1"/>
<line x1="1004.4" y1="250.3" x2="1052.8" y2="250.3" stroke="#222" stroke-width="1.8"/>
<path d="M1028.00 255.10l4.6 -8h-9.2z" fill="none" stroke="#bbb" stroke-width="1.1"/>
<circle cx="640.50" cy="1335.50" r="51.35" fill="none" stroke="#a8a8a8" stroke-width="0.8" stroke-dasharray="2 2"/>
<circle cx="640.50" cy="1335.50" r="71.99" fill="none" stroke="#a8a8a8" stroke-width="0.8" stroke-dasharray="2 2"/>
<circle cx="640.50" cy="1335.50" r="113.29" fill="none" stroke="#a8a8a8" stroke-width="0.8" stroke-dasharray="2 2"/>
<circle cx="640.50" cy="1335.50" r="133.93" fill="none" stroke="#a8a8a8" stroke-width="0.8" stroke-dasharray="2 2"/>
<circle cx="640.50" cy="1335.50" r="175.23" fill="none" stroke="#a8a8a8" stroke-width="0.8" stroke-dasharray="2 2"/>
<circle cx="640.50" cy="1335.50" r="195.87" fill="none" stroke="#a8a8a8" stroke-width="0.8" stroke-dasharray="2 2"/>
<circle cx="640.50" cy="1335.50" r="237.17" fill="none" stroke="#a8a8a8" stroke-width="0.8" stroke-dasharray="2 2"/>
<circle cx="640.50" cy="1335.50" r="257.81" fill="none" stroke="#a8a8a8" stroke-width="0.8" stroke-dasharray="2 2"/>
<circle cx="640.50" cy="1335.50" r="299.11" fill="none" stroke="#a8a8a8" stroke-width="0.8" stroke-dasharray="2 2"/>
<circle cx="640.50" cy="1335.50" r="319.75" fill="none" stroke="#a8a8a8" stroke-width="0.8" stroke-dasharray="2 2"/>
<circle cx="640.50" cy="1335.50" r="30.70" fill="none" stroke="#000" stroke-width="1.0"/>
<circle cx="640.50" cy="1335.50" r="92.64" fill="none" stroke="#000" stroke-width="1.0"/>
<circle cx="640.50" cy="1335.50" r="154.58" fill="none" stroke="#000" stroke-width="1.0"/>
<circle cx="640.50" cy="1335.50" r="216.52" fill="none" stroke="#000" stroke-width="1.0"/>
<circle cx="640.50" cy="1335.50" r="278.46" fill="none" stroke="#000" stroke-width="1.0"/>
<circle cx="640.50" cy="1335.50" r="340.40" fill="none" stroke="#000" stroke-width="1.0"/>
<line x1="671.20" y1="1335.50" x2="980.90" y2="1335.50" stroke="#000" stroke-width="1.35"/>
<line x1="968.90" y1="1335.50" x2="980.90" y2="1335.50" stroke="#000" stroke-width="1.40"/>
<line x1="640.50" y1="1304.80" x2="640.50" y2="995.10" stroke="#000" stroke-width="1.35"/>
<line x1="640.50" y1="1007.10" x2="640.50" y2="995.10" stroke="#000" stroke-width="1.40"/>
<line x1="609.80" y1="1335.50" x2="300.10" y2="1335.50" stroke="#000" stroke-width="1.35"/>
<line x1="312.10" y1="1335.50" x2="300.10" y2="1335.50" stroke="#000" stroke-width="1.40"/>
<line x1="640.50" y1="1366.20" x2="640.50" y2="1675.90" stroke="#000" stroke-width="1.35"/>
<line x1="640.50" y1="1663.90" x2="640.50" y2="1675.90" stroke="#000" stroke-width="1.40"/>
<line x1="662.21" y1="1313.79" x2="881.20" y2="1094.80" stroke="#000" stroke-width="1.0"/>
<line x1="618.79" y1="1313.79" x2="399.80" y2="1094.80" stroke="#000" stroke-width="1.0"/>
<line x1="618.79" y1="1357.21" x2="399.80" y2="1576.20" stroke="#000" stroke-width="1.0"/>
<line x1="662.21" y1="1357.21" x2="881.20" y2="1576.20" stroke="#000" stroke-width="1.0"/>
<path d="M892.80 1335.50 L890.84 1313.60 L887.69 1291.91 L880.34 1271.24 L868.38 1252.56 L851.04 1237.33 L824.10 1229.50 L777.30 1239.71 L731.43 1259.20 L686.11 1289.89 L712.49 1249.70 L748.91 1180.68 L754.60 1137.87 L744.68 1112.10 L728.50 1093.72 L708.57 1081.46 L686.62 1073.94 L663.80 1069.22 L640.50 1068.20 L617.20 1069.22 L594.38 1073.94 L572.43 1081.46 L552.50 1093.72 L536.32 1112.10 L526.40 1137.87 L532.09 1180.68 L568.51 1249.70 L594.89 1289.89 L549.57 1259.20 L503.70 1239.71 L456.90 1229.50 L429.96 1237.33 L412.62 1252.56 L400.66 1271.24 L393.31 1291.91 L390.16 1313.60 L388.20 1335.50 L390.16 1357.40 L393.31 1379.09 L400.66 1399.76 L412.62 1418.44 L429.96 1433.67 L456.90 1441.50 L503.70 1431.29 L549.57 1411.80 L594.89 1381.11 L568.51 1421.30 L532.09 1490.32 L526.40 1533.13 L536.32 1558.90 L552.50 1577.28 L572.43 1589.54 L594.38 1597.06 L617.20 1601.78 L640.50 1602.80 L663.80 1601.78 L686.62 1597.06 L708.57 1589.54 L728.50 1577.28 L744.68 1558.90 L754.60 1533.13 L748.91 1490.32 L712.49 1421.30 L686.11 1381.11 L731.43 1411.80 L777.30 1431.29 L824.10 1441.50 L851.04 1433.67 L868.38 1418.44 L880.34 1399.76 L887.69 1379.09 L890.84 1357.40 Z" fill="none" stroke="#444" stroke-width="1.70" stroke-linejoin="round"/>
<rect x="889.30" y="1332.00" width="7" height="7" fill="#fff" stroke="#222" stroke-width="1.2"/>
<rect x="887.34" y="1310.10" width="7" height="7" fill="#fff" stroke="#222" stroke-width="1.2"/>
<rect x="884.19" y="1288.41" width="7" height="7" fill="#fff" stroke="#222" stroke-width="1.2"/>
<rect x="876.84" y="1267.74" width="7" height="7" fill="#fff" stroke="#222" stroke-width="1.2"/>
<rect x="864.88" y="1249.06" width="7" height="7" fill="#fff" stroke="#222" stroke-width="1.2"/>
<rect x="847.54" y="1233.83" width="7" height="7" fill="#fff" stroke="#222" stroke-width="1.2"/>
<rect x="820.60" y="1226.00" width="7" height="7" fill="#fff" stroke="#222" stroke-width="1.2"/>
<rect x="773.80" y="1236.21" width="7" height="7" fill="#fff" stroke="#222" stroke-width="1.2"/>
<rect x="727.93" y="1255.70" width="7" height="7" fill="#fff" stroke="#222" stroke-width="1.2"/>
<rect x="682.61" y="1286.39" width="7" height="7" fill="#fff" stroke="#222" stroke-width="1.2"/>
<rect x="708.99" y="1246.20" width="7" height="7" fill="#fff" stroke="#222" stroke-width="1.2"/>
<rect x="745.41" y="1177.18" width="7" height="7" fill="#fff" stroke="#222" stroke-width="1.2"/>
<rect x="751.10" y="1134.37" width="7" height="7" fill="#fff" stroke="#222" stroke-width="1.2"/>
<rect x="741.18" y="1108.60" width="7" height="7" fill="#fff" stroke="#222" stroke-width="1.2"/>
<rect x="725.00" y="1090.22" width="7" height="7" fill="#fff" stroke="#222" stroke-width="1.2"/>
<rect x="705.07" y="1077.96" width="7" height="7" fill="#fff" stroke="#222" stroke-width="1.2"/>
<rect x="683.12" y="1070.44" width="7" height="7" fill="#fff" stroke="#222" stroke-width="1.2"/>
<rect x="660.30" y="1065.72" width="7" height="7" fill="#fff" stroke="#222" stroke-width="1.2"/>
<rect x="637.00" y="1064.70" width="7" height="7" fill="#fff" stroke="#222" stroke-width="1.2"/>
<rect x="613.70" y="1065.72" width="7" height="7" fill="#fff" stroke="#222" stroke-width="1.2"/>
<rect x="590.88" y="1070.44" width="7" height="7" fill="#fff" stroke="#222" stroke-width="1.2"/>
<rect x="568.93" y="1077.96" width="7" height="7" fill="#fff" stroke="#222" stroke-width="1.2"/>
<rect x="549.00" y="1090.22" width="7" height="7" fill="#fff" stroke="#222" stroke-width="1.2"/>
<rect x="532.82" y="1108.60" width="7" height="7" fill="#fff" stroke="#222" stroke-width="1.2"/>
<rect x="522.90" y="1134.37" width="7" height="7" fill="#fff" stroke="#222" stroke-width="1.2"/>
<rect x="528.59" y="1177.18" width="7" height="7" fill="#fff" stroke="#222" stroke-width="1.2"/>
<rect x="565.01" y="1246.20" width="7" height="7" fill="#fff" stroke="#222" stroke-width="1.2"/>
<rect x="591.39" y="1286.39" width="7" height="7" fill="#fff" stroke="#222" stroke-width="1.2"/>
<rect x="546.07" y="1255.70" width="7" height="7" fill="#fff" stroke="#222" stroke-width="1.2"/>
<rect x="500.20" y="1236.21" width="7" height="7" fill="#fff" stroke="#222" stroke-width="1.2"/>
<rect x="453.40" y="1226.00" width="7" height="7" fill="#fff" stroke="#222" stroke-width="1.2"/>
<rect x="426.46" y="1233.83" width="7" height="7" fill="#fff" stroke="#222" stroke-width="1.2"/>
<rect x="409.12" y="1249.06" width="7" height="7" fill="#fff" stroke="#222" stroke-width="1.2"/>
<rect x="397.16" y="1267.74" width="7" height="7" fill="#fff" stroke="#222" stroke-width="1.2"/>
<rect x="389.81" y="1288.41" width="7" height="7" fill="#fff" stroke="#222" stroke-width="1.2"/>
<rect x="386.66" y="1310.10" width="7" height="7" fill="#fff" stroke="#222" stroke-width="1.2"/>
<rect x="384.70" y="1332.00" width="7" height="7" fill="#fff" stroke="#222" stroke-width="1.2"/>
<rect x="386.66" y="1353.90" width="7" height="7" fill="#fff" stroke="#222" stroke-width="1.2"/>
<rect x="389.81" y="1375.59" width="7" height="7" fill="#fff" stroke="#222" stroke-width="1.2"/>
<rect x="397.16" y="1396.26" width="7" height="7" fill="#fff" stroke="#222" stroke-width="1.2"/>
<rect x="409.12" y="1414.94" width="7" height="7" fill="#fff" stroke="#222" stroke-width="1.2"/>
<rect x="426.46" y="1430.17" width="7" height="7" fill="#fff" stroke="#222" stroke-width="1.2"/>
<rect x="453.40" y="1438.00" width="7" height="7" fill="#fff" stroke="#222" stroke-width="1.2"/>
<rect x="500.20" y="1427.79" width="7" height="7" fill="#fff" stroke="#222" stroke-width="1.2"/>
<rect x="546.07" y="1408.30" width="7" height="7" fill="#fff" stroke="#222" stroke-width="1.2"/>
<rect x="591.39" y="1377.61" width="7" height="7" fill="#fff" stroke="#222" stroke-width="1.2"/>
<rect x="565.01" y="1417.80" width="7" height="7" fill="#fff" stroke="#222" stroke-width="1.2"/>
<rect x="528.59" y="1486.82" width="7" height="7" fill="#fff" stroke="#222" stroke-width="1.2"/>
<rect x="522.90" y="1529.63" width="7" height="7" fill="#fff" stroke="#222" stroke-width="1.2"/>
<rect x="532.82" y="1555.40" width="7" height="7" fill="#fff" stroke="#222" stroke-width="1.2"/>
<rect x="549.00" y="1573.78" width="7" height="7" fill="#fff" stroke="#222" stroke-width="1.2"/>
<rect x="568.93" y="1586.04" width="7" height="7" fill="#fff" stroke="#222" stroke-width="1.2"/>
<rect x="590.88" y="1593.56" width="7" height="7" fill="#fff" stroke="#222" stroke-width="1.2"/>
<rect x="613.70" y="1598.28" width="7" height="7" fill="#fff" stroke="#222" stroke-width="1.2"/>
<rect x="637.00" y="1599.30" width="7" height="7" fill="#fff" stroke="#222" stroke-width="1.2"/>
<rect x="660.30" y="1598.28" width="7" height="7" fill="#fff" stroke="#222" stroke-width="1.2"/>
<rect x="683.12" y="1593.56" width="7" height="7" fill="#fff" stroke="#222" stroke-width="1.2"/>
<rect x="705.07" y="1586.04" width="7" height="7" fill="#fff" stroke="#222" stroke-width="1.2"/>
<rect x="725.00" y="1573.78" width="7" height="7" fill="#fff" stroke="#222" stroke-width="1.2"/>
<rect x="741.18" y="1555.40" width="7" height="7" fill="#fff" stroke="#222" stroke-width="1.2"/>
<rect x="751.10" y="1529.63" width="7" height="7" fill="#fff" stroke="#222" stroke-width="1.2"/>
<rect x="745.41" y="1486.82" width="7" height="7" fill="#fff" stroke="#222" stroke-width="1.2"/>
<rect x="708.99" y="1417.80" width="7" height="7" fill="#fff" stroke="#222" stroke-width="1.2"/>
<rect x="682.61" y="1377.61" width="7" height="7" fill="#fff" stroke="#222" stroke-width="1.2"/>
<rect x="727.93" y="1408.30" width="7" height="7" fill="#fff" stroke="#222" stroke-width="1.2"/>
<rect x="773.80" y="1427.79" width="7" height="7" fill="#fff" stroke="#222" stroke-width="1.2"/>
<rect x="820.60" y="1438.00" width="7" height="7" fill="#fff" stroke="#222" stroke-width="1.2"/>
<rect x="847.54" y="1430.17" width="7" height="7" fill="#fff" stroke="#222" stroke-width="1.2"/>
<rect x="864.88" y="1414.94" width="7" height="7" fill="#fff" stroke="#222" stroke-width="1.2"/>
<rect x="876.84" y="1396.26" width="7" height="7" fill="#fff" stroke="#222" stroke-width="1.2"/>
<rect x="884.19" y="1375.59" width="7" height="7" fill="#fff" stroke="#222" stroke-width="1.2"/>
<rect x="887.34" y="1353.90" width="7" height="7" fill="#fff" stroke="#222" stroke-width="1.2"/>
<path d="M903.90 1335.50 L902.40 1312.59 L897.44 1290.20 L889.42 1268.80 L876.74 1249.52 L858.01 1234.07 L829.29 1226.50 L779.76 1237.99 L731.43 1259.20 L686.11 1289.89 L712.49 1249.70 L749.19 1180.27 L751.00 1144.11 L741.08 1119.80 L725.66 1101.52 L706.24 1090.15 L685.13 1082.40 L663.07 1077.49 L640.50 1076.10 L617.93 1077.49 L595.87 1082.40 L574.76 1090.15 L555.34 1101.52 L539.92 1119.80 L530.00 1144.11 L531.81 1180.27 L568.51 1249.70 L594.89 1289.89 L549.57 1259.20 L501.24 1237.99 L451.71 1226.50 L422.99 1234.07 L404.26 1249.52 L391.58 1268.80 L383.56 1290.20 L378.60 1312.59 L377.10 1335.50 L378.60 1358.41 L383.56 1380.80 L391.58 1402.20 L404.26 1421.48 L422.99 1436.93 L451.71 1444.50 L501.24 1433.01 L549.57 1411.80 L594.89 1381.11 L568.51 1421.30 L531.81 1490.73 L530.00 1526.89 L539.92 1551.20 L555.34 1569.48 L574.76 1580.85 L595.87 1588.60 L617.93 1593.51 L640.50 1594.90 L663.07 1593.51 L685.13 1588.60 L706.24 1580.85 L725.66 1569.48 L741.08 1551.20 L751.00 1526.89 L749.19 1490.73 L712.49 1421.30 L686.11 1381.11 L731.43 1411.80 L779.76 1433.01 L829.29 1444.50 L858.01 1436.93 L876.74 1421.48 L889.42 1402.20 L897.44 1380.80 L902.40 1358.41 Z" fill="none" stroke="#999" stroke-width="1.70" stroke-linejoin="round"/>
<circle cx="903.90" cy="1335.50" r="3.8" fill="#fff" stroke="#8a8a8a" stroke-width="1.2"/>
<circle cx="902.40" cy="1312.59" r="3.8" fill="#fff" stroke="#8a8a8a" stroke-width="1.2"/>
<circle cx="897.44" cy="1290.20" r="3.8" fill="#fff" stroke="#8a8a8a" stroke-width="1.2"/>
<circle cx="889.42" cy="1268.80" r="3.8" fill="#fff" stroke="#8a8a8a" stroke-width="1.2"/>
<circle cx="876.74" cy="1249.52" r="3.8" fill="#fff" stroke="#8a8a8a" stroke-width="1.2"/>
<circle cx="858.01" cy="1234.07" r="3.8" fill="#fff" stroke="#8a8a8a" stroke-width="1.2"/>
<circle cx="829.29" cy="1226.50" r="3.8" fill="#fff" stroke="#8a8a8a" stroke-width="1.2"/>
<circle cx="779.76" cy="1237.99" r="3.8" fill="#fff" stroke="#8a8a8a" stroke-width="1.2"/>
<circle cx="731.43" cy="1259.20" r="3.8" fill="#fff" stroke="#8a8a8a" stroke-width="1.2"/>
<circle cx="686.11" cy="1289.89" r="3.8" fill="#fff" stroke="#8a8a8a" stroke-width="1.2"/>
<circle cx="712.49" cy="1249.70" r="3.8" fill="#fff" stroke="#8a8a8a" stroke-width="1.2"/>
<circle cx="749.19" cy="1180.27" r="3.8" fill="#fff" stroke="#8a8a8a" stroke-width="1.2"/>
<circle cx="751.00" cy="1144.11" r="3.8" fill="#fff" stroke="#8a8a8a" stroke-width="1.2"/>
<circle cx="741.08" cy="1119.80" r="3.8" fill="#fff" stroke="#8a8a8a" stroke-width="1.2"/>
<circle cx="725.66" cy="1101.52" r="3.8" fill="#fff" stroke="#8a8a8a" stroke-width="1.2"/>
<circle cx="706.24" cy="1090.15" r="3.8" fill="#fff" stroke="#8a8a8a" stroke-width="1.2"/>
<circle cx="685.13" cy="1082.40" r="3.8" fill="#fff" stroke="#8a8a8a" stroke-width="1.2"/>
<circle cx="663.07" cy="1077.49" r="3.8" fill="#fff" stroke="#8a8a8a" stroke-width="1.2"/>
<circle cx="640.50" cy="1076.10" r="3.8" fill="#fff" stroke="#8a8a8a" stroke-width="1.2"/>
<circle cx="617.93" cy="1077.49" r="3.8" fill="#fff" stroke="#8a8a8a" stroke-width="1.2"/>
<circle cx="595.87" cy="1082.40" r="3.8" fill="#fff" stroke="#8a8a8a" stroke-width="1.2"/>
<circle cx="574.76" cy="1090.15" r="3.8" fill="#fff" stroke="#8a8a8a" stroke-width="1.2"/>
<circle cx="555.34" cy="1101.52" r="3.8" fill="#fff" stroke="#8a8a8a" stroke-width="1.2"/>
<circle cx="539.92" cy="1119.80" r="3.8" fill="#fff" stroke="#8a8a8a" stroke-width="1.2"/>
<circle cx="530.00" cy="1144.11" r="3.8" fill="#fff" stroke="#8a8a8a" stroke-width="1.2"/>
<circle cx="531.81" cy="1180.27" r="3.8" fill="#fff" stroke="#8a8a8a" stroke-width="1.2"/>
<circle cx="568.51" cy="1249.70" r="3.8" fill="#fff" stroke="#8a8a8a" stroke-width="1.2"/>
<circle cx="594.89" cy="1289.89" r="3.8" fill="#fff" stroke="#8a8a8a" stroke-width="1.2"/>
<circle cx="549.57" cy="1259.20" r="3.8" fill="#fff" stroke="#8a8a8a" stroke-width="1.2"/>
<circle cx="501.24" cy="1237.99" r="3.8" fill="#fff" stroke="#8a8a8a" stroke-width="1.2"/>
<circle cx="451.71" cy="1226.50" r="3.8" fill="#fff" stroke="#8a8a8a" stroke-width="1.2"/>
<circle cx="422.99" cy="1234.07" r="3.8" fill="#fff" stroke="#8a8a8a" stroke-width="1.2"/>
<circle cx="404.26" cy="1249.52" r="3.8" fill="#fff" stroke="#8a8a8a" stroke-width="1.2"/>
<circle cx="391.58" cy="1268.80" r="3.8" fill="#fff" stroke="#8a8a8a" stroke-width="1.2"/>
<circle cx="383.56" cy="1290.20" r="3.8" fill="#fff" stroke="#8a8a8a" stroke-width="1.2"/>
<circle cx="378.60" cy="1312.59" r="3.8" fill="#fff" stroke="#8a8a8a" stroke-width="1.2"/>
<circle cx="377.10" cy="1335.50" r="3.8" fill="#fff" stroke="#8a8a8a" stroke-width="1.2"/>
<circle cx="378.60" cy="1358.41" r="3.8" fill="#fff" stroke="#8a8a8a" stroke-width="1.2"/>
<circle cx="383.56" cy="1380.80" r="3.8" fill="#fff" stroke="#8a8a8a" stroke-width="1.2"/>
<circle cx="391.58" cy="1402.20" r="3.8" fill="#fff" stroke="#8a8a8a" stroke-width="1.2"/>
<circle cx="404.26" cy="1421.48" r="3.8" fill="#fff" stroke="#8a8a8a" stroke-width="1.2"/>
<circle cx="422.99" cy="1436.93" r="3.8" fill="#fff" stroke="#8a8a8a" stroke-width="1.2"/>
<circle cx="451.71" cy="1444.50" r="3.8" fill="#fff" stroke="#8a8a8a" stroke-width="1.2"/>
<circle cx="501.24" cy="1433.01" r="3.8" fill="#fff" stroke="#8a8a8a" stroke-width="1.2"/>
<circle cx="549.57" cy="1411.80" r="3.8" fill="#fff" stroke="#8a8a8a" stroke-width="1.2"/>
<circle cx="594.89" cy="1381.11" r="3.8" fill="#fff" stroke="#8a8a8a" stroke-width="1.2"/>
<circle cx="568.51" cy="1421.30" r="3.8" fill="#fff" stroke="#8a8a8a" stroke-width="1.2"/>
<circle cx="531.81" cy="1490.73" r="3.8" fill="#fff" stroke="#8a8a8a" stroke-width="1.2"/>
<circle cx="530.00" cy="1526.89" r="3.8" fill="#fff" stroke="#8a8a8a" stroke-width="1.2"/>
<circle cx="539.92" cy="1551.20" r="3.8" fill="#fff" stroke="#8a8a8a" stroke-width="1.2"/>
<circle cx="555.34" cy="1569.48" r="3.8" fill="#fff" stroke="#8a8a8a" stroke-width="1.2"/>
<circle cx="574.76" cy="1580.85" r="3.8" fill="#fff" stroke="#8a8a8a" stroke-width="1.2"/>
<circle cx="595.87" cy="1588.60" r="3.8" fill="#fff" stroke="#8a8a8a" stroke-width="1.2"/>
<circle cx="617.93" cy="1593.51" r="3.8" fill="#fff" stroke="#8a8a8a" stroke-width="1.2"/>
<circle cx="640.50" cy="1594.90" r="3.8" fill="#fff" stroke="#8a8a8a" stroke-width="1.2"/>
<circle cx="663.07" cy="1593.51" r="3.8" fill="#fff" stroke="#8a8a8a" stroke-width="1.2"/>
<circle cx="685.13" cy="1588.60" r="3.8" fill="#fff" stroke="#8a8a8a" stroke-width="1.2"/>
<circle cx="706.24" cy="1580.85" r="3.8" fill="#fff" stroke="#8a8a8a" stroke-width="1.2"/>
<circle cx="725.66" cy="1569.48" r="3.8" fill="#fff" stroke="#8a8a8a" stroke-width="1.2"/>
<circle cx="741.08" cy="1551.20" r="3.8" fill="#fff" stroke="#8a8a8a" stroke-width="1.2"/>
<circle cx="751.00" cy="1526.89" r="3.8" fill="#fff" stroke="#8a8a8a" stroke-width="1.2"/>
<circle cx="749.19" cy="1490.73" r="3.8" fill="#fff" stroke="#8a8a8a" stroke-width="1.2"/>
<circle cx="712.49" cy="1421.30" r="3.8" fill="#fff" stroke="#8a8a8a" stroke-width="1.2"/>
<circle cx="686.11" cy="1381.11" r="3.8" fill="#fff" stroke="#8a8a8a" stroke-width="1.2"/>
<circle cx="731.43" cy="1411.80" r="3.8" fill="#fff" stroke="#8a8a8a" stroke-width="1.2"/>
<circle cx="779.76" cy="1433.01" r="3.8" fill="#fff" stroke="#8a8a8a" stroke-width="1.2"/>
<circle cx="829.29" cy="1444.50" r="3.8" fill="#fff" stroke="#8a8a8a" stroke-width="1.2"/>
<circle cx="858.01" cy="1436.93" r="3.8" fill="#fff" stroke="#8a8a8a" stroke-width="1.2"/>
<circle cx="876.74" cy="1421.48" r="3.8" fill="#fff" stroke="#8a8a8a" stroke-width="1.2"/>
<circle cx="889.42" cy="1402.20" r="3.8" fill="#fff" stroke="#8a8a8a" stroke-width="1.2"/>
<circle cx="897.44" cy="1380.80" r="3.8" fill="#fff" stroke="#8a8a8a" stroke-width="1.2"/>
<circle cx="902.40" cy="1358.41" r="3.8" fill="#fff" stroke="#8a8a8a" stroke-width="1.2"/>
<path d="M913.50 1335.50 L912.06 1311.74 L908.17 1288.30 L899.66 1266.06 L886.61 1245.92 L865.81 1230.44 L831.89 1225.00 L787.78 1232.37 L731.43 1259.20 L686.11 1289.89 L714.42 1247.40 L746.61 1183.96 L748.00 1149.30 L738.55 1125.24 L723.27 1108.09 L704.17 1097.88 L683.74 1090.28 L662.38 1085.46 L640.50 1083.90 L618.62 1085.46 L597.26 1090.28 L576.83 1097.88 L557.73 1108.09 L542.45 1125.24 L533.00 1149.30 L534.39 1183.96 L566.58 1247.40 L594.89 1289.89 L549.57 1259.20 L493.22 1232.37 L449.11 1225.00 L415.19 1230.44 L394.39 1245.92 L381.34 1266.06 L372.83 1288.30 L368.94 1311.74 L367.50 1335.50 L368.94 1359.26 L372.83 1382.70 L381.34 1404.94 L394.39 1425.08 L415.19 1440.56 L449.11 1446.00 L493.22 1438.63 L549.57 1411.80 L594.89 1381.11 L566.58 1423.60 L534.39 1487.04 L533.00 1521.70 L542.45 1545.76 L557.73 1562.91 L576.83 1573.12 L597.26 1580.72 L618.62 1585.54 L640.50 1587.10 L662.38 1585.54 L683.74 1580.72 L704.17 1573.12 L723.27 1562.91 L738.55 1545.76 L748.00 1521.70 L746.61 1487.04 L714.42 1423.60 L686.11 1381.11 L731.43 1411.80 L787.78 1438.63 L831.89 1446.00 L865.81 1440.56 L886.61 1425.08 L899.66 1404.94 L908.17 1382.70 L912.06 1359.26 Z" fill="none" stroke="#333" stroke-width="1.70" stroke-linejoin="round"/>
<path d="M913.50 1330.70l4.6 8h-9.2z" fill="#fff" stroke="#555" stroke-width="1.2"/>
<path d="M912.06 1306.94l4.6 8h-9.2z" fill="#fff" stroke="#555" stroke-width="1.2"/>
<path d="M908.17 1283.50l4.6 8h-9.2z" fill="#fff" stroke="#555" stroke-width="1.2"/>
<path d="M899.66 1261.26l4.6 8h-9.2z" fill="#fff" stroke="#555" stroke-width="1.2"/>
<path d="M886.61 1241.12l4.6 8h-9.2z" fill="#fff" stroke="#555" stroke-width="1.2"/>
<path d="M865.81 1225.64l4.6 8h-9.2z" fill="#fff" stroke="#555" stroke-width="1.2"/>
<path d="M831.89 1220.20l4.6 8h-9.2z" fill="#fff" stroke="#555" stroke-width="1.2"/>
<path d="M787.78 1227.57l4.6 8h-9.2z" fill="#fff" stroke="#555" stroke-width="1.2"/>
<path d="M731.43 1254.40l4.6 8h-9.2z" fill="#fff" stroke="#555" stroke-width="1.2"/>
<path d="M686.11 1285.09l4.6 8h-9.2z" fill="#fff" stroke="#555" stroke-width="1.2"/>
<path d="M714.42 1242.60l4.6 8h-9.2z" fill="#fff" stroke="#555" stroke-width="1.2"/>
<path d="M746.61 1179.16l4.6 8h-9.2z" fill="#fff" stroke="#555" stroke-width="1.2"/>
<path d="M748.00 1144.50l4.6 8h-9.2z" fill="#fff" stroke="#555" stroke-width="1.2"/>
<path d="M738.55 1120.44l4.6 8h-9.2z" fill="#fff" stroke="#555" stroke-width="1.2"/>
<path d="M723.27 1103.29l4.6 8h-9.2z" fill="#fff" stroke="#555" stroke-width="1.2"/>
<path d="M704.17 1093.08l4.6 8h-9.2z" fill="#fff" stroke="#555" stroke-width="1.2"/>
<path d="M683.74 1085.48l4.6 8h-9.2z" fill="#fff" stroke="#555" stroke-width="1.2"/>
<path d="M662.38 1080.66l4.6 8h-9.2z" fill="#fff" stroke="#555" stroke-width="1.2"/>
<path d="M640.50 1079.10l4.6 8h-9.2z" fill="#fff" stroke="#555" stroke-width="1.2"/>
<path d="M618.62 1080.66l4.6 8h-9.2z" fill="#fff" stroke="#555" stroke-width="1.2"/>
<path d="M597.26 1085.48l4.6 8h-9.2z" fill="#fff" stroke="#555" stroke-width="1.2"/>
<path d="M576.83 1093.08l4.6 8h-9.2z" fill="#fff" stroke="#555" stroke-width="1.2"/>
<path d="M557.73 1103.29l4.6 8h-9.2z" fill="#fff" stroke="#555" stroke-width="1.2"/>
<path d="M542.45 1120.44l4.6 8h-9.2z" fill="#fff" stroke="#555" stroke-width="1.2"/>
<path d="M533.00 1144.50l4.6 8h-9.2z" fill="#fff" stroke="#555" stroke-width="1.2"/>
<path d="M534.39 1179.16l4.6 8h-9.2z" fill="#fff" stroke="#555" stroke-width="1.2"/>
<path d="M566.58 1242.60l4.6 8h-9.2z" fill="#fff" stroke="#555" stroke-width="1.2"/>
<path d="M594.89 1285.09l4.6 8h-9.2z" fill="#fff" stroke="#555" stroke-width="1.2"/>
<path d="M549.57 1254.40l4.6 8h-9.2z" fill="#fff" stroke="#555" stroke-width="1.2"/>
<path d="M493.22 1227.57l4.6 8h-9.2z" fill="#fff" stroke="#555" stroke-width="1.2"/>
<path d="M449.11 1220.20l4.6 8h-9.2z" fill="#fff" stroke="#555" stroke-width="1.2"/>
<path d="M415.19 1225.64l4.6 8h-9.2z" fill="#fff" stroke="#555" stroke-width="1.2"/>
<path d="M394.39 1241.12l4.6 8h-9.2z" fill="#fff" stroke="#555" stroke-width="1.2"/>
<path d="M381.34 1261.26l4.6 8h-9.2z" fill="#fff" stroke="#555" stroke-width="1.2"/>
<path d="M372.83 1283.50l4.6 8h-9.2z" fill="#fff" stroke="#555" stroke-width="1.2"/>
<path d="M368.94 1306.94l4.6 8h-9.2z" fill="#fff" stroke="#555" stroke-width="1.2"/>
<path d="M367.50 1330.70l4.6 8h-9.2z" fill="#fff" stroke="#555" stroke-width="1.2"/>
<path d="M368.94 1354.46l4.6 8h-9.2z" fill="#fff" stroke="#555" stroke-width="1.2"/>
<path d="M372.83 1377.90l4.6 8h-9.2z" fill="#fff" stroke="#555" stroke-width="1.2"/>
<path d="M381.34 1400.14l4.6 8h-9.2z" fill="#fff" stroke="#555" stroke-width="1.2"/>
<path d="M394.39 1420.28l4.6 8h-9.2z" fill="#fff" stroke="#555" stroke-width="1.2"/>
<path d="M415.19 1435.76l4.6 8h-9.2z" fill="#fff" stroke="#555" stroke-width="1.2"/>
<path d="M449.11 1441.20l4.6 8h-9.2z" fill="#fff" stroke="#555" stroke-width="1.2"/>
<path d="M493.22 1433.83l4.6 8h-9.2z" fill="#fff" stroke="#555" stroke-width="1.2"/>
<path d="M549.57 1407.00l4.6 8h-9.2z" fill="#fff" stroke="#555" stroke-width="1.2"/>
<path d="M594.89 1376.31l4.6 8h-9.2z" fill="#fff" stroke="#555" stroke-width="1.2"/>
<path d="M566.58 1418.80l4.6 8h-9.2z" fill="#fff" stroke="#555" stroke-width="1.2"/>
<path d="M534.39 1482.24l4.6 8h-9.2z" fill="#fff" stroke="#555" stroke-width="1.2"/>
<path d="M533.00 1516.90l4.6 8h-9.2z" fill="#fff" stroke="#555" stroke-width="1.2"/>
<path d="M542.45 1540.96l4.6 8h-9.2z" fill="#fff" stroke="#555" stroke-width="1.2"/>
<path d="M557.73 1558.11l4.6 8h-9.2z" fill="#fff" stroke="#555" stroke-width="1.2"/>
<path d="M576.83 1568.32l4.6 8h-9.2z" fill="#fff" stroke="#555" stroke-width="1.2"/>
<path d="M597.26 1575.92l4.6 8h-9.2z" fill="#fff" stroke="#555" stroke-width="1.2"/>
<path d="M618.62 1580.74l4.6 8h-9.2z" fill="#fff" stroke="#555" stroke-width="1.2"/>
<path d="M640.50 1582.30l4.6 8h-9.2z" fill="#fff" stroke="#555" stroke-width="1.2"/>
<path d="M662.38 1580.74l4.6 8h-9.2z" fill="#fff" stroke="#555" stroke-width="1.2"/>
<path d="M683.74 1575.92l4.6 8h-9.2z" fill="#fff" stroke="#555" stroke-width="1.2"/>
<path d="M704.17 1568.32l4.6 8h-9.2z" fill="#fff" stroke="#555" stroke-width="1.2"/>
<path d="M723.27 1558.11l4.6 8h-9.2z" fill="#fff" stroke="#555" stroke-width="1.2"/>
<path d="M738.55 1540.96l4.6 8h-9.2z" fill="#fff" stroke="#555" stroke-width="1.2"/>
<path d="M748.00 1516.90l4.6 8h-9.2z" fill="#fff" stroke="#555" stroke-width="1.2"/>
<path d="M746.61 1482.24l4.6 8h-9.2z" fill="#fff" stroke="#555" stroke-width="1.2"/>
<path d="M714.42 1418.80l4.6 8h-9.2z" fill="#fff" stroke="#555" stroke-width="1.2"/>
<path d="M686.11 1376.31l4.6 8h-9.2z" fill="#fff" stroke="#555" stroke-width="1.2"/>
<path d="M731.43 1407.00l4.6 8h-9.2z" fill="#fff" stroke="#555" stroke-width="1.2"/>
<path d="M787.78 1433.83l4.6 8h-9.2z" fill="#fff" stroke="#555" stroke-width="1.2"/>
<path d="M831.89 1441.20l4.6 8h-9.2z" fill="#fff" stroke="#555" stroke-width="1.2"/>
<path d="M865.81 1435.76l4.6 8h-9.2z" fill="#fff" stroke="#555" stroke-width="1.2"/>
<path d="M886.61 1420.28l4.6 8h-9.2z" fill="#fff" stroke="#555" stroke-width="1.2"/>
<path d="M899.66 1400.14l4.6 8h-9.2z" fill="#fff" stroke="#555" stroke-width="1.2"/>
<path d="M908.17 1377.90l4.6 8h-9.2z" fill="#fff" stroke="#555" stroke-width="1.2"/>
<path d="M912.06 1354.46l4.6 8h-9.2z" fill="#fff" stroke="#555" stroke-width="1.2"/>
<path d="M897.50 1335.50 L894.33 1313.29 L887.79 1291.90 L877.54 1271.99 L860.20 1255.54 L839.16 1242.86 L807.64 1239.00 L771.24 1243.96 L724.08 1265.37 L689.29 1286.71 L717.96 1243.19 L744.89 1186.41 L744.95 1154.59 L735.88 1130.95 L720.50 1115.71 L702.05 1105.80 L682.52 1097.18 L661.81 1091.93 L640.50 1091.50 L619.19 1091.93 L598.48 1097.18 L578.95 1105.80 L560.50 1115.71 L545.12 1130.95 L536.05 1154.59 L536.11 1186.41 L563.04 1243.19 L591.71 1286.71 L556.92 1265.37 L509.76 1243.96 L473.36 1239.00 L441.84 1242.86 L420.80 1255.54 L403.46 1271.99 L393.21 1291.90 L386.67 1313.29 L383.50 1335.50 L386.67 1357.71 L393.21 1379.10 L403.46 1399.01 L420.80 1415.46 L441.84 1428.14 L473.36 1432.00 L509.76 1427.04 L556.92 1405.63 L591.71 1384.29 L563.04 1427.81 L536.11 1484.59 L536.05 1516.41 L545.12 1540.05 L560.50 1555.29 L578.95 1565.20 L598.48 1573.82 L619.19 1579.07 L640.50 1579.50 L661.81 1579.07 L682.52 1573.82 L702.05 1565.20 L720.50 1555.29 L735.88 1540.05 L744.95 1516.41 L744.89 1484.59 L717.96 1427.81 L689.29 1384.29 L724.08 1405.63 L771.24 1427.04 L807.64 1432.00 L839.16 1428.14 L860.20 1415.46 L877.54 1399.01 L887.79 1379.10 L894.33 1357.71 Z" fill="none" stroke="#111" stroke-width="1.70" stroke-linejoin="round"/>
<path d="M897.50 1340.30l4.6 -8h-9.2z" fill="none" stroke="#222" stroke-width="1.2"/>
<path d="M894.33 1318.09l4.6 -8h-9.2z" fill="none" stroke="#222" stroke-width="1.2"/>
<path d="M887.79 1296.70l4.6 -8h-9.2z" fill="none" stroke="#222" stroke-width="1.2"/>
<path d="M877.54 1276.79l4.6 -8h-9.2z" fill="none" stroke="#222" stroke-width="1.2"/>
<path d="M860.20 1260.34l4.6 -8h-9.2z" fill="none" stroke="#222" stroke-width="1.2"/>
<path d="M839.16 1247.66l4.6 -8h-9.2z" fill="none" stroke="#222" stroke-width="1.2"/>
<path d="M807.64 1243.80l4.6 -8h-9.2z" fill="none" stroke="#222" stroke-width="1.2"/>
<path d="M771.24 1248.76l4.6 -8h-9.2z" fill="none" stroke="#222" stroke-width="1.2"/>
<path d="M724.08 1270.17l4.6 -8h-9.2z" fill="none" stroke="#222" stroke-width="1.2"/>
<path d="M689.29 1291.51l4.6 -8h-9.2z" fill="none" stroke="#222" stroke-width="1.2"/>
<path d="M717.96 1247.99l4.6 -8h-9.2z" fill="none" stroke="#222" stroke-width="1.2"/>
<path d="M744.89 1191.21l4.6 -8h-9.2z" fill="none" stroke="#222" stroke-width="1.2"/>
<path d="M744.95 1159.39l4.6 -8h-9.2z" fill="none" stroke="#222" stroke-width="1.2"/>
<path d="M735.88 1135.75l4.6 -8h-9.2z" fill="none" stroke="#222" stroke-width="1.2"/>
<path d="M720.50 1120.51l4.6 -8h-9.2z" fill="none" stroke="#222" stroke-width="1.2"/>
<path d="M702.05 1110.60l4.6 -8h-9.2z" fill="none" stroke="#222" stroke-width="1.2"/>
<path d="M682.52 1101.98l4.6 -8h-9.2z" fill="none" stroke="#222" stroke-width="1.2"/>
<path d="M661.81 1096.73l4.6 -8h-9.2z" fill="none" stroke="#222" stroke-width="1.2"/>
<path d="M640.50 1096.30l4.6 -8h-9.2z" fill="none" stroke="#222" stroke-width="1.2"/>
<path d="M619.19 1096.73l4.6 -8h-9.2z" fill="none" stroke="#222" stroke-width="1.2"/>
<path d="M598.48 1101.98l4.6 -8h-9.2z" fill="none" stroke="#222" stroke-width="1.2"/>
<path d="M578.95 1110.60l4.6 -8h-9.2z" fill="none" stroke="#222" stroke-width="1.2"/>
<path d="M560.50 1120.51l4.6 -8h-9.2z" fill="none" stroke="#222" stroke-width="1.2"/>
<path d="M545.12 1135.75l4.6 -8h-9.2z" fill="none" stroke="#222" stroke-width="1.2"/>
<path d="M536.05 1159.39l4.6 -8h-9.2z" fill="none" stroke="#222" stroke-width="1.2"/>
<path d="M536.11 1191.21l4.6 -8h-9.2z" fill="none" stroke="#222" stroke-width="1.2"/>
<path d="M563.04 1247.99l4.6 -8h-9.2z" fill="none" stroke="#222" stroke-width="1.2"/>
<path d="M591.71 1291.51l4.6 -8h-9.2z" fill="none" stroke="#222" stroke-width="1.2"/>
<path d="M556.92 1270.17l4.6 -8h-9.2z" fill="none" stroke="#222" stroke-width="1.2"/>
<path d="M509.76 1248.76l4.6 -8h-9.2z" fill="none" stroke="#222" stroke-width="1.2"/>
<path d="M473.36 1243.80l4.6 -8h-9.2z" fill="none" stroke="#222" stroke-width="1.2"/>
<path d="M441.84 1247.66l4.6 -8h-9.2z" fill="none" stroke="#222" stroke-width="1.2"/>
<path d="M420.80 1260.34l4.6 -8h-9.2z" fill="none" stroke="#222" stroke-width="1.2"/>
<path d="M403.46 1276.79l4.6 -8h-9.2z" fill="none" stroke="#222" stroke-width="1.2"/>
<path d="M393.21 1296.70l4.6 -8h-9.2z" fill="none" stroke="#222" stroke-width="1.2"/>
<path d="M386.67 1318.09l4.6 -8h-9.2z" fill="none" stroke="#222" stroke-width="1.2"/>
<path d="M383.50 1340.30l4.6 -8h-9.2z" fill="none" stroke="#222" stroke-width="1.2"/>
<path d="M386.67 1362.51l4.6 -8h-9.2z" fill="none" stroke="#222" stroke-width="1.2"/>
<path d="M393.21 1383.90l4.6 -8h-9.2z" fill="none" stroke="#222" stroke-width="1.2"/>
<path d="M403.46 1403.81l4.6 -8h-9.2z" fill="none" stroke="#222" stroke-width="1.2"/>
<path d="M420.80 1420.26l4.6 -8h-9.2z" fill="none" stroke="#222" stroke-width="1.2"/>
<path d="M441.84 1432.94l4.6 -8h-9.2z" fill="none" stroke="#222" stroke-width="1.2"/>
<path d="M473.36 1436.80l4.6 -8h-9.2z" fill="none" stroke="#222" stroke-width="1.2"/>
<path d="M509.76 1431.84l4.6 -8h-9.2z" fill="none" stroke="#222" stroke-width="1.2"/>
<path d="M556.92 1410.43l4.6 -8h-9.2z" fill="none" stroke="#222" stroke-width="1.2"/>
<path d="M591.71 1389.09l4.6 -8h-9.2z" fill="none" stroke="#222" stroke-width="1.2"/>
<path d="M563.04 1432.61l4.6 -8h-9.2z" fill="none" stroke="#222" stroke-width="1.2"/>
<path d="M536.11 1489.39l4.6 -8h-9.2z" fill="none" stroke="#222" stroke-width="1.2"/>
<path d="M536.05 1521.21l4.6 -8h-9.2z" fill="none" stroke="#222" stroke-width="1.2"/>
<path d="M545.12 1544.85l4.6 -8h-9.2z" fill="none" stroke="#222" stroke-width="1.2"/>
<path d="M560.50 1560.09l4.6 -8h-9.2z" fill="none" stroke="#222" stroke-width="1.2"/>
<path d="M578.95 1570.00l4.6 -8h-9.2z" fill="none" stroke="#222" stroke-width="1.2"/>
<path d="M598.48 1578.62l4.6 -8h-9.2z" fill="none" stroke="#222" stroke-width="1.2"/>
<path d="M619.19 1583.87l4.6 -8h-9.2z" fill="none" stroke="#222" stroke-width="1.2"/>
<path d="M640.50 1584.30l4.6 -8h-9.2z" fill="none" stroke="#222" stroke-width="1.2"/>
<path d="M661.81 1583.87l4.6 -8h-9.2z" fill="none" stroke="#222" stroke-width="1.2"/>
<path d="M682.52 1578.62l4.6 -8h-9.2z" fill="none" stroke="#222" stroke-width="1.2"/>
<path d="M702.05 1570.00l4.6 -8h-9.2z" fill="none" stroke="#222" stroke-width="1.2"/>
<path d="M720.50 1560.09l4.6 -8h-9.2z" fill="none" stroke="#222" stroke-width="1.2"/>
<path d="M735.88 1544.85l4.6 -8h-9.2z" fill="none" stroke="#222" stroke-width="1.2"/>
<path d="M744.95 1521.21l4.6 -8h-9.2z" fill="none" stroke="#222" stroke-width="1.2"/>
<path d="M744.89 1489.39l4.6 -8h-9.2z" fill="none" stroke="#222" stroke-width="1.2"/>
<path d="M717.96 1432.61l4.6 -8h-9.2z" fill="none" stroke="#222" stroke-width="1.2"/>
<path d="M689.29 1389.09l4.6 -8h-9.2z" fill="none" stroke="#222" stroke-width="1.2"/>
<path d="M724.08 1410.43l4.6 -8h-9.2z" fill="none" stroke="#222" stroke-width="1.2"/>
<path d="M771.24 1431.84l4.6 -8h-9.2z" fill="none" stroke="#222" stroke-width="1.2"/>
<path d="M807.64 1436.80l4.6 -8h-9.2z" fill="none" stroke="#222" stroke-width="1.2"/>
<path d="M839.16 1432.94l4.6 -8h-9.2z" fill="none" stroke="#222" stroke-width="1.2"/>
<path d="M860.20 1420.26l4.6 -8h-9.2z" fill="none" stroke="#222" stroke-width="1.2"/>
<path d="M877.54 1403.81l4.6 -8h-9.2z" fill="none" stroke="#222" stroke-width="1.2"/>
<path d="M887.79 1383.90l4.6 -8h-9.2z" fill="none" stroke="#222" stroke-width="1.2"/>
<path d="M894.33 1362.51l4.6 -8h-9.2z" fill="none" stroke="#222" stroke-width="1.2"/>
<path d="M199.3 978.7 H187.0 V1286.1 H199.3" fill="none" stroke="#000" stroke-width="2.2"/>
<line x1="187.0" y1="1040.2" x2="199.3" y2="1040.2" stroke="#000" stroke-width="2.2"/>
<line x1="187.0" y1="1101.7" x2="199.3" y2="1101.7" stroke="#000" stroke-width="2.2"/>
<line x1="187.0" y1="1163.1" x2="199.3" y2="1163.1" stroke="#000" stroke-width="2.2"/>
<line x1="187.0" y1="1224.6" x2="199.3" y2="1224.6" stroke="#000" stroke-width="2.2"/>
<line x1="206.9" y1="978.1" x2="225.9" y2="978.1" stroke="#000" stroke-width="2"/>
<line x1="206.9" y1="1039.6" x2="225.9" y2="1039.6" stroke="#000" stroke-width="2"/>
<line x1="206.9" y1="1102.6" x2="225.9" y2="1102.6" stroke="#000" stroke-width="2"/>
<g transform="matrix(0 -0.3198 0.3500 0 124.60 1260.44)" fill="none" stroke="#000" stroke-width="7.43"><path d="M16 6 V90"/><path d="M16 46 H44"/><path d="M2 98 L48 82"/><path d="M58 2 V86 Q58 92 66 92 H98 V76"/><path d="M94 26 L60 54"/></g>
<g transform="matrix(0 -0.3854 0.3635 0 124.07 1307.77)" fill="none" stroke="#000" stroke-width="7.15"><path d="M2 32 H44"/><path d="M23 2 V98"/><path d="M22 38 L2 78"/><path d="M26 48 L42 62"/><path d="M62 6 L46 44"/><path d="M72 8 L98 46"/><path d="M70 50 L50 90 L92 84"/><path d="M80 66 L96 92"/></g>
<g transform="matrix(0 -0.4145 0.3760 0 123.75 1351.97)" fill="none" stroke="#000" stroke-width="6.91"><path d="M14 12 L26 26"/><path d="M8 40 L22 50"/><path d="M5 90 L22 62"/><path d="M60 2 L52 18"/><path d="M36 21 V98"/><path d="M36 21 H88 V98"/><path d="M36 58 H88"/><path d="M36 94 H88"/></g>
<line x1="1010" y1="975.6" x2="1030.5" y2="975.6" stroke="#000" stroke-width="2.2"/>
<line x1="1004.4" y1="1045.5" x2="1052.8" y2="1045.5" stroke="#777" stroke-width="1.8"/>
<rect x="1024.50" y="1042.00" width="7" height="7" fill="#fff" stroke="#444" stroke-width="1.1"/>
<line x1="1004.4" y1="1089.7" x2="1052.8" y2="1089.7" stroke="#aaa" stroke-width="1.8"/>
<circle cx="1028.00" cy="1089.70" r="3.8" fill="#fff" stroke="#aaa" stroke-width="1.1"/>
<line x1="1004.4" y1="1134.5" x2="1052.8" y2="1134.5" stroke="#333" stroke-width="1.8"/>
<path d="M1028.00 1129.70l4.6 8h-9.2z" fill="#fff" stroke="#999" stroke-width="1.1"/>
<line x1="1004.4" y1="1178.3" x2="1052.8" y2="1178.3" stroke="#222" stroke-width="1.8"/>
<path d="M1028.00 1183.10l4.6 -8h-9.2z" fill="none" stroke="#bbb" stroke-width="1.1"/>
<circle cx="638.20" cy="2266.40" r="51.35" fill="none" stroke="#a8a8a8" stroke-width="0.8" stroke-dasharray="2 2"/>
<circle cx="638.20" cy="2266.40" r="71.99" fill="none" stroke="#a8a8a8" stroke-width="0.8" stroke-dasharray="2 2"/>
<circle cx="638.20" cy="2266.40" r="113.29" fill="none" stroke="#a8a8a8" stroke-width="0.8" stroke-dasharray="2 2"/>
<circle cx="638.20" cy="2266.40" r="133.93" fill="none" stroke="#a8a8a8" stroke-width="0.8" stroke-dasharray="2 2"/>
<circle cx="638.20" cy="2266.40" r="175.23" fill="none" stroke="#a8a8a8" stroke-width="0.8" stroke-dasharray="2 2"/>
<circle cx="638.20" cy="2266.40" r="195.87" fill="none" stroke="#a8a8a8" stroke-width="0.8" stroke-dasharray="2 2"/>
<circle cx="638.20" cy="2266.40" r="237.17" fill="none" stroke="#a8a8a8" stroke-width="0.8" stroke-dasharray="2 2"/>
<circle cx="638.20" cy="2266.40" r="257.81" fill="none" stroke="#a8a8a8" stroke-width="0.8" stroke-dasharray="2 2"/>
<circle cx="638.20" cy="2266.40" r="299.11" fill="none" stroke="#a8a8a8" stroke-width="0.8" stroke-dasharray="2 2"/>
<circle cx="638.20" cy="2266.40" r="319.75" fill="none" stroke="#a8a8a8" stroke-width="0.8" stroke-dasharray="2 2"/>
<circle cx="638.20" cy="2266.40" r="30.70" fill="none" stroke="#000" stroke-width="1.0"/>
<circle cx="638.20" cy="2266.40" r="92.64" fill="none" stroke="#000" stroke-width="1.0"/>
<circle cx="638.20" cy="2266.40" r="154.58" fill="none" stroke="#000" stroke-width="1.0"/>
<circle cx="638.20" cy="2266.40" r="216.52" fill="none" stroke="#000" stroke-width="1.0"/>
<circle cx="638.20" cy="2266.40" r="278.46" fill="none" stroke="#000" stroke-width="1.0"/>
<circle cx="638.20" cy="2266.40" r="340.40" fill="none" stroke="#000" stroke-width="1.0"/>
<line x1="668.90" y1="2266.40" x2="978.60" y2="2266.40" stroke="#000" stroke-width="1.35"/>
<line x1="966.60" y1="2266.40" x2="978.60" y2="2266.40" stroke="#000" stroke-width="1.40"/>
<line x1="638.20" y1="2235.70" x2="638.20" y2="1926.00" stroke="#000" stroke-width="1.35"/>
<line x1="638.20" y1="1938.00" x2="638.20" y2="1926.00" stroke="#000" stroke-width="1.40"/>
<line x1="607.50" y1="2266.40" x2="297.80" y2="2266.40" stroke="#000" stroke-width="1.35"/>
<line x1="309.80" y1="2266.40" x2="297.80" y2="2266.40" stroke="#000" stroke-width="1.40"/>
<line x1="638.20" y1="2297.10" x2="638.20" y2="2606.80" stroke="#000" stroke-width="1.35"/>
<line x1="638.20" y1="2594.80" x2="638.20" y2="2606.80" stroke="#000" stroke-width="1.40"/>
<line x1="659.91" y1="2244.69" x2="878.90" y2="2025.70" stroke="#000" stroke-width="1.0"/>
<line x1="616.49" y1="2244.69" x2="397.50" y2="2025.70" stroke="#000" stroke-width="1.0"/>
<line x1="616.49" y1="2288.11" x2="397.50" y2="2507.10" stroke="#000" stroke-width="1.0"/>
<line x1="659.91" y1="2288.11" x2="878.90" y2="2507.10" stroke="#000" stroke-width="1.0"/>
<path d="M900.80 2266.40 L899.80 2243.51 L896.81 2220.80 L891.85 2198.43 L884.96 2176.59 L876.20 2155.42 L865.62 2135.10 L853.31 2115.78 L839.36 2097.60 L823.89 2080.71 L807.00 2065.24 L788.82 2051.29 L769.50 2038.98 L749.18 2028.40 L728.01 2019.64 L706.17 2012.75 L683.80 2007.79 L661.09 2004.80 L638.20 2003.80 L615.31 2004.80 L592.60 2007.79 L570.23 2012.75 L548.39 2019.64 L527.22 2028.40 L506.90 2038.98 L487.58 2051.29 L469.40 2065.24 L452.51 2080.71 L437.04 2097.60 L423.09 2115.78 L410.78 2135.10 L400.20 2155.42 L391.44 2176.59 L384.55 2198.43 L379.59 2220.80 L376.60 2243.51 L375.60 2266.40 L376.60 2289.29 L379.59 2312.00 L384.55 2334.37 L391.44 2356.21 L400.20 2377.38 L410.78 2397.70 L423.09 2417.02 L437.04 2435.20 L452.51 2452.09 L469.40 2467.56 L487.58 2481.51 L506.90 2493.82 L527.22 2504.40 L548.39 2513.16 L570.23 2520.05 L592.60 2525.01 L615.31 2528.00 L638.20 2529.00 L661.09 2528.00 L683.80 2525.01 L706.17 2520.05 L728.01 2513.16 L749.18 2504.40 L769.50 2493.82 L788.82 2481.51 L807.00 2467.56 L823.89 2452.09 L839.36 2435.20 L853.31 2417.02 L865.62 2397.70 L876.20 2377.38 L884.96 2356.21 L891.85 2334.37 L896.81 2312.00 L899.80 2289.29 Z" fill="none" stroke="#444" stroke-width="1.70" stroke-linejoin="round"/>
<rect x="897.30" y="2262.90" width="7" height="7" fill="#fff" stroke="#222" stroke-width="1.2"/>
<rect x="896.30" y="2240.01" width="7" height="7" fill="#fff" stroke="#222" stroke-width="1.2"/>
<rect x="893.31" y="2217.30" width="7" height="7" fill="#fff" stroke="#222" stroke-width="1.2"/>
<rect x="888.35" y="2194.93" width="7" height="7" fill="#fff" stroke="#222" stroke-width="1.2"/>
<rect x="881.46" y="2173.09" width="7" height="7" fill="#fff" stroke="#222" stroke-width="1.2"/>
<rect x="872.70" y="2151.92" width="7" height="7" fill="#fff" stroke="#222" stroke-width="1.2"/>
<rect x="862.12" y="2131.60" width="7" height="7" fill="#fff" stroke="#222" stroke-width="1.2"/>
<rect x="849.81" y="2112.28" width="7" height="7" fill="#fff" stroke="#222" stroke-width="1.2"/>
<rect x="835.86" y="2094.10" width="7" height="7" fill="#fff" stroke="#222" stroke-width="1.2"/>
<rect x="820.39" y="2077.21" width="7" height="7" fill="#fff" stroke="#222" stroke-width="1.2"/>
<rect x="803.50" y="2061.74" width="7" height="7" fill="#fff" stroke="#222" stroke-width="1.2"/>
<rect x="785.32" y="2047.79" width="7" height="7" fill="#fff" stroke="#222" stroke-width="1.2"/>
<rect x="766.00" y="2035.48" width="7" height="7" fill="#fff" stroke="#222" stroke-width="1.2"/>
<rect x="745.68" y="2024.90" width="7" height="7" fill="#fff" stroke="#222" stroke-width="1.2"/>
<rect x="724.51" y="2016.14" width="7" height="7" fill="#fff" stroke="#222" stroke-width="1.2"/>
<rect x="702.67" y="2009.25" width="7" height="7" fill="#fff" stroke="#222" stroke-width="1.2"/>
<rect x="680.30" y="2004.29" width="7" height="7" fill="#fff" stroke="#222" stroke-width="1.2"/>
<rect x="657.59" y="2001.30" width="7" height="7" fill="#fff" stroke="#222" stroke-width="1.2"/>
<rect x="634.70" y="2000.30" width="7" height="7" fill="#fff" stroke="#222" stroke-width="1.2"/>
<rect x="611.81" y="2001.30" width="7" height="7" fill="#fff" stroke="#222" stroke-width="1.2"/>
<rect x="589.10" y="2004.29" width="7" height="7" fill="#fff" stroke="#222" stroke-width="1.2"/>
<rect x="566.73" y="2009.25" width="7" height="7" fill="#fff" stroke="#222" stroke-width="1.2"/>
<rect x="544.89" y="2016.14" width="7" height="7" fill="#fff" stroke="#222" stroke-width="1.2"/>
<rect x="523.72" y="2024.90" width="7" height="7" fill="#fff" stroke="#222" stroke-width="1.2"/>
<rect x="503.40" y="2035.48" width="7" height="7" fill="#fff" stroke="#222" stroke-width="1.2"/>
<rect x="484.08" y="2047.79" width="7" height="7" fill="#fff" stroke="#222" stroke-width="1.2"/>
<rect x="465.90" y="2061.74" width="7" height="7" fill="#fff" stroke="#222" stroke-width="1.2"/>
<rect x="449.01" y="2077.21" width="7" height="7" fill="#fff" stroke="#222" stroke-width="1.2"/>
<rect x="433.54" y="2094.10" width="7" height="7" fill="#fff" stroke="#222" stroke-width="1.2"/>
<rect x="419.59" y="2112.28" width="7" height="7" fill="#fff" stroke="#222" stroke-width="1.2"/>
<rect x="407.28" y="2131.60" width="7" height="7" fill="#fff" stroke="#222" stroke-width="1.2"/>
<rect x="396.70" y="2151.92" width="7" height="7" fill="#fff" stroke="#222" stroke-width="1.2"/>
<rect x="387.94" y="2173.09" width="7" height="7" fill="#fff" stroke="#222" stroke-width="1.2"/>
<rect x="381.05" y="2194.93" width="7" height="7" fill="#fff" stroke="#222" stroke-width="1.2"/>
<rect x="376.09" y="2217.30" width="7" height="7" fill="#fff" stroke="#222" stroke-width="1.2"/>
<rect x="373.10" y="2240.01" width="7" height="7" fill="#fff" stroke="#222" stroke-width="1.2"/>
<rect x="372.10" y="2262.90" width="7" height="7" fill="#fff" stroke="#222" stroke-width="1.2"/>
<rect x="373.10" y="2285.79" width="7" height="7" fill="#fff" stroke="#222" stroke-width="1.2"/>
<rect x="376.09" y="2308.50" width="7" height="7" fill="#fff" stroke="#222" stroke-width="1.2"/>
<rect x="381.05" y="2330.87" width="7" height="7" fill="#fff" stroke="#222" stroke-width="1.2"/>
<rect x="387.94" y="2352.71" width="7" height="7" fill="#fff" stroke="#222" stroke-width="1.2"/>
<rect x="396.70" y="2373.88" width="7" height="7" fill="#fff" stroke="#222" stroke-width="1.2"/>
<rect x="407.28" y="2394.20" width="7" height="7" fill="#fff" stroke="#222" stroke-width="1.2"/>
<rect x="419.59" y="2413.52" width="7" height="7" fill="#fff" stroke="#222" stroke-width="1.2"/>
<rect x="433.54" y="2431.70" width="7" height="7" fill="#fff" stroke="#222" stroke-width="1.2"/>
<rect x="449.01" y="2448.59" width="7" height="7" fill="#fff" stroke="#222" stroke-width="1.2"/>
<rect x="465.90" y="2464.06" width="7" height="7" fill="#fff" stroke="#222" stroke-width="1.2"/>
<rect x="484.08" y="2478.01" width="7" height="7" fill="#fff" stroke="#222" stroke-width="1.2"/>
<rect x="503.40" y="2490.32" width="7" height="7" fill="#fff" stroke="#222" stroke-width="1.2"/>
<rect x="523.72" y="2500.90" width="7" height="7" fill="#fff" stroke="#222" stroke-width="1.2"/>
<rect x="544.89" y="2509.66" width="7" height="7" fill="#fff" stroke="#222" stroke-width="1.2"/>
<rect x="566.73" y="2516.55" width="7" height="7" fill="#fff" stroke="#222" stroke-width="1.2"/>
<rect x="589.10" y="2521.51" width="7" height="7" fill="#fff" stroke="#222" stroke-width="1.2"/>
<rect x="611.81" y="2524.50" width="7" height="7" fill="#fff" stroke="#222" stroke-width="1.2"/>
<rect x="634.70" y="2525.50" width="7" height="7" fill="#fff" stroke="#222" stroke-width="1.2"/>
<rect x="657.59" y="2524.50" width="7" height="7" fill="#fff" stroke="#222" stroke-width="1.2"/>
<rect x="680.30" y="2521.51" width="7" height="7" fill="#fff" stroke="#222" stroke-width="1.2"/>
<rect x="702.67" y="2516.55" width="7" height="7" fill="#fff" stroke="#222" stroke-width="1.2"/>
<rect x="724.51" y="2509.66" width="7" height="7" fill="#fff" stroke="#222" stroke-width="1.2"/>
<rect x="745.68" y="2500.90" width="7" height="7" fill="#fff" stroke="#222" stroke-width="1.2"/>
<rect x="766.00" y="2490.32" width="7" height="7" fill="#fff" stroke="#222" stroke-width="1.2"/>
<rect x="785.32" y="2478.01" width="7" height="7" fill="#fff" stroke="#222" stroke-width="1.2"/>
<rect x="803.50" y="2464.06" width="7" height="7" fill="#fff" stroke="#222" stroke-width="1.2"/>
<rect x="820.39" y="2448.59" width="7" height="7" fill="#fff" stroke="#222" stroke-width="1.2"/>
<rect x="835.86" y="2431.70" width="7" height="7" fill="#fff" stroke="#222" stroke-width="1.2"/>
<rect x="849.81" y="2413.52" width="7" height="7" fill="#fff" stroke="#222" stroke-width="1.2"/>
<rect x="862.12" y="2394.20" width="7" height="7" fill="#fff" stroke="#222" stroke-width="1.2"/>
<rect x="872.70" y="2373.88" width="7" height="7" fill="#fff" stroke="#222" stroke-width="1.2"/>
<rect x="881.46" y="2352.71" width="7" height="7" fill="#fff" stroke="#222" stroke-width="1.2"/>
<rect x="888.35" y="2330.87" width="7" height="7" fill="#fff" stroke="#222" stroke-width="1.2"/>
<rect x="893.31" y="2308.50" width="7" height="7" fill="#fff" stroke="#222" stroke-width="1.2"/>
<rect x="896.30" y="2285.79" width="7" height="7" fill="#fff" stroke="#222" stroke-width="1.2"/>
<path d="M900.00 2266.40 L899.00 2243.58 L896.02 2220.94 L891.08 2198.64 L884.21 2176.86 L875.47 2155.76 L864.93 2135.50 L852.65 2116.24 L838.75 2098.12 L823.32 2081.28 L806.48 2065.85 L788.36 2051.95 L769.10 2039.67 L748.84 2029.13 L727.74 2020.39 L705.96 2013.52 L683.66 2008.58 L661.02 2005.60 L638.20 2004.60 L615.38 2005.60 L592.74 2008.58 L570.44 2013.52 L548.66 2020.39 L527.56 2029.13 L507.30 2039.67 L488.04 2051.95 L469.92 2065.85 L453.08 2081.28 L437.65 2098.12 L423.75 2116.24 L411.47 2135.50 L400.93 2155.76 L392.19 2176.86 L385.32 2198.64 L380.38 2220.94 L377.40 2243.58 L376.40 2266.40 L377.40 2289.22 L380.38 2311.86 L385.32 2334.16 L392.19 2355.94 L400.93 2377.04 L411.47 2397.30 L423.75 2416.56 L437.65 2434.68 L453.08 2451.52 L469.92 2466.95 L488.04 2480.85 L507.30 2493.13 L527.56 2503.67 L548.66 2512.41 L570.44 2519.28 L592.74 2524.22 L615.38 2527.20 L638.20 2528.20 L661.02 2527.20 L683.66 2524.22 L705.96 2519.28 L727.74 2512.41 L748.84 2503.67 L769.10 2493.13 L788.36 2480.85 L806.48 2466.95 L823.32 2451.52 L838.75 2434.68 L852.65 2416.56 L864.93 2397.30 L875.47 2377.04 L884.21 2355.94 L891.08 2334.16 L896.02 2311.86 L899.00 2289.22 Z" fill="none" stroke="#999" stroke-width="1.70" stroke-linejoin="round"/>
<circle cx="900.00" cy="2266.40" r="3.8" fill="#fff" stroke="#8a8a8a" stroke-width="1.2"/>
<circle cx="899.00" cy="2243.58" r="3.8" fill="#fff" stroke="#8a8a8a" stroke-width="1.2"/>
<circle cx="896.02" cy="2220.94" r="3.8" fill="#fff" stroke="#8a8a8a" stroke-width="1.2"/>
<circle cx="891.08" cy="2198.64" r="3.8" fill="#fff" stroke="#8a8a8a" stroke-width="1.2"/>
<circle cx="884.21" cy="2176.86" r="3.8" fill="#fff" stroke="#8a8a8a" stroke-width="1.2"/>
<circle cx="875.47" cy="2155.76" r="3.8" fill="#fff" stroke="#8a8a8a" stroke-width="1.2"/>
<circle cx="864.93" cy="2135.50" r="3.8" fill="#fff" stroke="#8a8a8a" stroke-width="1.2"/>
<circle cx="852.65" cy="2116.24" r="3.8" fill="#fff" stroke="#8a8a8a" stroke-width="1.2"/>
<circle cx="838.75" cy="2098.12" r="3.8" fill="#fff" stroke="#8a8a8a" stroke-width="1.2"/>
<circle cx="823.32" cy="2081.28" r="3.8" fill="#fff" stroke="#8a8a8a" stroke-width="1.2"/>
<circle cx="806.48" cy="2065.85" r="3.8" fill="#fff" stroke="#8a8a8a" stroke-width="1.2"/>
<circle cx="788.36" cy="2051.95" r="3.8" fill="#fff" stroke="#8a8a8a" stroke-width="1.2"/>
<circle cx="769.10" cy="2039.67" r="3.8" fill="#fff" stroke="#8a8a8a" stroke-width="1.2"/>
<circle cx="748.84" cy="2029.13" r="3.8" fill="#fff" stroke="#8a8a8a" stroke-width="1.2"/>
<circle cx="727.74" cy="2020.39" r="3.8" fill="#fff" stroke="#8a8a8a" stroke-width="1.2"/>
<circle cx="705.96" cy="2013.52" r="3.8" fill="#fff" stroke="#8a8a8a" stroke-width="1.2"/>
<circle cx="683.66" cy="2008.58" r="3.8" fill="#fff" stroke="#8a8a8a" stroke-width="1.2"/>
<circle cx="661.02" cy="2005.60" r="3.8" fill="#fff" stroke="#8a8a8a" stroke-width="1.2"/>
<circle cx="638.20" cy="2004.60" r="3.8" fill="#fff" stroke="#8a8a8a" stroke-width="1.2"/>
<circle cx="615.38" cy="2005.60" r="3.8" fill="#fff" stroke="#8a8a8a" stroke-width="1.2"/>
<circle cx="592.74" cy="2008.58" r="3.8" fill="#fff" stroke="#8a8a8a" stroke-width="1.2"/>
<circle cx="570.44" cy="2013.52" r="3.8" fill="#fff" stroke="#8a8a8a" stroke-width="1.2"/>
<circle cx="548.66" cy="2020.39" r="3.8" fill="#fff" stroke="#8a8a8a" stroke-width="1.2"/>
<circle cx="527.56" cy="2029.13" r="3.8" fill="#fff" stroke="#8a8a8a" stroke-width="1.2"/>
<circle cx="507.30" cy="2039.67" r="3.8" fill="#fff" stroke="#8a8a8a" stroke-width="1.2"/>
<circle cx="488.04" cy="2051.95" r="3.8" fill="#fff" stroke="#8a8a8a" stroke-width="1.2"/>
<circle cx="469.92" cy="2065.85" r="3.8" fill="#fff" stroke="#8a8a8a" stroke-width="1.2"/>
<circle cx="453.08" cy="2081.28" r="3.8" fill="#fff" stroke="#8a8a8a" stroke-width="1.2"/>
<circle cx="437.65" cy="2098.12" r="3.8" fill="#fff" stroke="#8a8a8a" stroke-width="1.2"/>
<circle cx="423.75" cy="2116.24" r="3.8" fill="#fff" stroke="#8a8a8a" stroke-width="1.2"/>
<circle cx="411.47" cy="2135.50" r="3.8" fill="#fff" stroke="#8a8a8a" stroke-width="1.2"/>
<circle cx="400.93" cy="2155.76" r="3.8" fill="#fff" stroke="#8a8a8a" stroke-width="1.2"/>
<circle cx="392.19" cy="2176.86" r="3.8" fill="#fff" stroke="#8a8a8a" stroke-width="1.2"/>
<circle cx="385.32" cy="2198.64" r="3.8" fill="#fff" stroke="#8a8a8a" stroke-width="1.2"/>
<circle cx="380.38" cy="2220.94" r="3.8" fill="#fff" stroke="#8a8a8a" stroke-width="1.2"/>
<circle cx="377.40" cy="2243.58" r="3.8" fill="#fff" stroke="#8a8a8a" stroke-width="1.2"/>
<circle cx="376.40" cy="2266.40" r="3.8" fill="#fff" stroke="#8a8a8a" stroke-width="1.2"/>
<circle cx="377.40" cy="2289.22" r="3.8" fill="#fff" stroke="#8a8a8a" stroke-width="1.2"/>
<circle cx="380.38" cy="2311.86" r="3.8" fill="#fff" stroke="#8a8a8a" stroke-width="1.2"/>
<circle cx="385.32" cy="2334.16" r="3.8" fill="#fff" stroke="#8a8a8a" stroke-width="1.2"/>
<circle cx="392.19" cy="2355.94" r="3.8" fill="#fff" stroke="#8a8a8a" stroke-width="1.2"/>
<circle cx="400.93" cy="2377.04" r="3.8" fill="#fff" stroke="#8a8a8a" stroke-width="1.2"/>
<circle cx="411.47" cy="2397.30" r="3.8" fill="#fff" stroke="#8a8a8a" stroke-width="1.2"/>
<circle cx="423.75" cy="2416.56" r="3.8" fill="#fff" stroke="#8a8a8a" stroke-width="1.2"/>
<circle cx="437.65" cy="2434.68" r="3.8" fill="#fff" stroke="#8a8a8a" stroke-width="1.2"/>
<circle cx="453.08" cy="2451.52" r="3.8" fill="#fff" stroke="#8a8a8a" stroke-width="1.2"/>
<circle cx="469.92" cy="2466.95" r="3.8" fill="#fff" stroke="#8a8a8a" stroke-width="1.2"/>
<circle cx="488.04" cy="2480.85" r="3.8" fill="#fff" stroke="#8a8a8a" stroke-width="1.2"/>
<circle cx="507.30" cy="2493.13" r="3.8" fill="#fff" stroke="#8a8a8a" stroke-width="1.2"/>
<circle cx="527.56" cy="2503.67" r="3.8" fill="#fff" stroke="#8a8a8a" stroke-width="1.2"/>
<circle cx="548.66" cy="2512.41" r="3.8" fill="#fff" stroke="#8a8a8a" stroke-width="1.2"/>
<circle cx="570.44" cy="2519.28" r="3.8" fill="#fff" stroke="#8a8a8a" stroke-width="1.2"/>
<circle cx="592.74" cy="2524.22" r="3.8" fill="#fff" stroke="#8a8a8a" stroke-width="1.2"/>
<circle cx="615.38" cy="2527.20" r="3.8" fill="#fff" stroke="#8a8a8a" stroke-width="1.2"/>
<circle cx="638.20" cy="2528.20" r="3.8" fill="#fff" stroke="#8a8a8a" stroke-width="1.2"/>
<circle cx="661.02" cy="2527.20" r="3.8" fill="#fff" stroke="#8a8a8a" stroke-width="1.2"/>
<circle cx="683.66" cy="2524.22" r="3.8" fill="#fff" stroke="#8a8a8a" stroke-width="1.2"/>
<circle cx="705.96" cy="2519.28" r="3.8" fill="#fff" stroke="#8a8a8a" stroke-width="1.2"/>
<circle cx="727.74" cy="2512.41" r="3.8" fill="#fff" stroke="#8a8a8a" stroke-width="1.2"/>
<circle cx="748.84" cy="2503.67" r="3.8" fill="#fff" stroke="#8a8a8a" stroke-width="1.2"/>
<circle cx="769.10" cy="2493.13" r="3.8" fill="#fff" stroke="#8a8a8a" stroke-width="1.2"/>
<circle cx="788.36" cy="2480.85" r="3.8" fill="#fff" stroke="#8a8a8a" stroke-width="1.2"/>
<circle cx="806.48" cy="2466.95" r="3.8" fill="#fff" stroke="#8a8a8a" stroke-width="1.2"/>
<circle cx="823.32" cy="2451.52" r="3.8" fill="#fff" stroke="#8a8a8a" stroke-width="1.2"/>
<circle cx="838.75" cy="2434.68" r="3.8" fill="#fff" stroke="#8a8a8a" stroke-width="1.2"/>
<circle cx="852.65" cy="2416.56" r="3.8" fill="#fff" stroke="#8a8a8a" stroke-width="1.2"/>
<circle cx="864.93" cy="2397.30" r="3.8" fill="#fff" stroke="#8a8a8a" stroke-width="1.2"/>
<circle cx="875.47" cy="2377.04" r="3.8" fill="#fff" stroke="#8a8a8a" stroke-width="1.2"/>
<circle cx="884.21" cy="2355.94" r="3.8" fill="#fff" stroke="#8a8a8a" stroke-width="1.2"/>
<circle cx="891.08" cy="2334.16" r="3.8" fill="#fff" stroke="#8a8a8a" stroke-width="1.2"/>
<circle cx="896.02" cy="2311.86" r="3.8" fill="#fff" stroke="#8a8a8a" stroke-width="1.2"/>
<circle cx="899.00" cy="2289.22" r="3.8" fill="#fff" stroke="#8a8a8a" stroke-width="1.2"/>
<path d="M899.20 2266.40 L898.21 2243.65 L895.23 2221.08 L890.31 2198.85 L883.46 2177.13 L874.75 2156.10 L864.23 2135.90 L852.00 2116.70 L838.14 2098.63 L822.75 2081.85 L805.97 2066.46 L787.90 2052.60 L768.70 2040.37 L748.50 2029.85 L727.47 2021.14 L705.75 2014.29 L683.52 2009.37 L660.95 2006.39 L638.20 2005.40 L615.45 2006.39 L592.88 2009.37 L570.65 2014.29 L548.93 2021.14 L527.90 2029.85 L507.70 2040.37 L488.50 2052.60 L470.43 2066.46 L453.65 2081.85 L438.26 2098.63 L424.40 2116.70 L412.17 2135.90 L401.65 2156.10 L392.94 2177.13 L386.09 2198.85 L381.17 2221.08 L378.19 2243.65 L377.20 2266.40 L378.19 2289.15 L381.17 2311.72 L386.09 2333.95 L392.94 2355.67 L401.65 2376.70 L412.17 2396.90 L424.40 2416.10 L438.26 2434.17 L453.65 2450.95 L470.43 2466.34 L488.50 2480.20 L507.70 2492.43 L527.90 2502.95 L548.93 2511.66 L570.65 2518.51 L592.88 2523.43 L615.45 2526.41 L638.20 2527.40 L660.95 2526.41 L683.52 2523.43 L705.75 2518.51 L727.47 2511.66 L748.50 2502.95 L768.70 2492.43 L787.90 2480.20 L805.97 2466.34 L822.75 2450.95 L838.14 2434.17 L852.00 2416.10 L864.23 2396.90 L874.75 2376.70 L883.46 2355.67 L890.31 2333.95 L895.23 2311.72 L898.21 2289.15 Z" fill="none" stroke="#333" stroke-width="1.70" stroke-linejoin="round"/>
<path d="M899.20 2261.60l4.6 8h-9.2z" fill="#fff" stroke="#555" stroke-width="1.2"/>
<path d="M898.21 2238.85l4.6 8h-9.2z" fill="#fff" stroke="#555" stroke-width="1.2"/>
<path d="M895.23 2216.28l4.6 8h-9.2z" fill="#fff" stroke="#555" stroke-width="1.2"/>
<path d="M890.31 2194.05l4.6 8h-9.2z" fill="#fff" stroke="#555" stroke-width="1.2"/>
<path d="M883.46 2172.33l4.6 8h-9.2z" fill="#fff" stroke="#555" stroke-width="1.2"/>
<path d="M874.75 2151.30l4.6 8h-9.2z" fill="#fff" stroke="#555" stroke-width="1.2"/>
<path d="M864.23 2131.10l4.6 8h-9.2z" fill="#fff" stroke="#555" stroke-width="1.2"/>
<path d="M852.00 2111.90l4.6 8h-9.2z" fill="#fff" stroke="#555" stroke-width="1.2"/>
<path d="M838.14 2093.83l4.6 8h-9.2z" fill="#fff" stroke="#555" stroke-width="1.2"/>
<path d="M822.75 2077.05l4.6 8h-9.2z" fill="#fff" stroke="#555" stroke-width="1.2"/>
<path d="M805.97 2061.66l4.6 8h-9.2z" fill="#fff" stroke="#555" stroke-width="1.2"/>
<path d="M787.90 2047.80l4.6 8h-9.2z" fill="#fff" stroke="#555" stroke-width="1.2"/>
<path d="M768.70 2035.57l4.6 8h-9.2z" fill="#fff" stroke="#555" stroke-width="1.2"/>
<path d="M748.50 2025.05l4.6 8h-9.2z" fill="#fff" stroke="#555" stroke-width="1.2"/>
<path d="M727.47 2016.34l4.6 8h-9.2z" fill="#fff" stroke="#555" stroke-width="1.2"/>
<path d="M705.75 2009.49l4.6 8h-9.2z" fill="#fff" stroke="#555" stroke-width="1.2"/>
<path d="M683.52 2004.57l4.6 8h-9.2z" fill="#fff" stroke="#555" stroke-width="1.2"/>
<path d="M660.95 2001.59l4.6 8h-9.2z" fill="#fff" stroke="#555" stroke-width="1.2"/>
<path d="M638.20 2000.60l4.6 8h-9.2z" fill="#fff" stroke="#555" stroke-width="1.2"/>
<path d="M615.45 2001.59l4.6 8h-9.2z" fill="#fff" stroke="#555" stroke-width="1.2"/>
<path d="M592.88 2004.57l4.6 8h-9.2z" fill="#fff" stroke="#555" stroke-width="1.2"/>
<path d="M570.65 2009.49l4.6 8h-9.2z" fill="#fff" stroke="#555" stroke-width="1.2"/>
<path d="M548.93 2016.34l4.6 8h-9.2z" fill="#fff" stroke="#555" stroke-width="1.2"/>
<path d="M527.90 2025.05l4.6 8h-9.2z" fill="#fff" stroke="#555" stroke-width="1.2"/>
<path d="M507.70 2035.57l4.6 8h-9.2z" fill="#fff" stroke="#555" stroke-width="1.2"/>
<path d="M488.50 2047.80l4.6 8h-9.2z" fill="#fff" stroke="#555" stroke-width="1.2"/>
<path d="M470.43 2061.66l4.6 8h-9.2z" fill="#fff" stroke="#555" stroke-width="1.2"/>
<path d="M453.65 2077.05l4.6 8h-9.2z" fill="#fff" stroke="#555" stroke-width="1.2"/>
<path d="M438.26 2093.83l4.6 8h-9.2z" fill="#fff" stroke="#555" stroke-width="1.2"/>
<path d="M424.40 2111.90l4.6 8h-9.2z" fill="#fff" stroke="#555" stroke-width="1.2"/>
<path d="M412.17 2131.10l4.6 8h-9.2z" fill="#fff" stroke="#555" stroke-width="1.2"/>
<path d="M401.65 2151.30l4.6 8h-9.2z" fill="#fff" stroke="#555" stroke-width="1.2"/>
<path d="M392.94 2172.33l4.6 8h-9.2z" fill="#fff" stroke="#555" stroke-width="1.2"/>
<path d="M386.09 2194.05l4.6 8h-9.2z" fill="#fff" stroke="#555" stroke-width="1.2"/>
<path d="M381.17 2216.28l4.6 8h-9.2z" fill="#fff" stroke="#555" stroke-width="1.2"/>
<path d="M378.19 2238.85l4.6 8h-9.2z" fill="#fff" stroke="#555" stroke-width="1.2"/>
<path d="M377.20 2261.60l4.6 8h-9.2z" fill="#fff" stroke="#555" stroke-width="1.2"/>
<path d="M378.19 2284.35l4.6 8h-9.2z" fill="#fff" stroke="#555" stroke-width="1.2"/>
<path d="M381.17 2306.92l4.6 8h-9.2z" fill="#fff" stroke="#555" stroke-width="1.2"/>
<path d="M386.09 2329.15l4.6 8h-9.2z" fill="#fff" stroke="#555" stroke-width="1.2"/>
<path d="M392.94 2350.87l4.6 8h-9.2z" fill="#fff" stroke="#555" stroke-width="1.2"/>
<path d="M401.65 2371.90l4.6 8h-9.2z" fill="#fff" stroke="#555" stroke-width="1.2"/>
<path d="M412.17 2392.10l4.6 8h-9.2z" fill="#fff" stroke="#555" stroke-width="1.2"/>
<path d="M424.40 2411.30l4.6 8h-9.2z" fill="#fff" stroke="#555" stroke-width="1.2"/>
<path d="M438.26 2429.37l4.6 8h-9.2z" fill="#fff" stroke="#555" stroke-width="1.2"/>
<path d="M453.65 2446.15l4.6 8h-9.2z" fill="#fff" stroke="#555" stroke-width="1.2"/>
<path d="M470.43 2461.54l4.6 8h-9.2z" fill="#fff" stroke="#555" stroke-width="1.2"/>
<path d="M488.50 2475.40l4.6 8h-9.2z" fill="#fff" stroke="#555" stroke-width="1.2"/>
<path d="M507.70 2487.63l4.6 8h-9.2z" fill="#fff" stroke="#555" stroke-width="1.2"/>
<path d="M527.90 2498.15l4.6 8h-9.2z" fill="#fff" stroke="#555" stroke-width="1.2"/>
<path d="M548.93 2506.86l4.6 8h-9.2z" fill="#fff" stroke="#555" stroke-width="1.2"/>
<path d="M570.65 2513.71l4.6 8h-9.2z" fill="#fff" stroke="#555" stroke-width="1.2"/>
<path d="M592.88 2518.63l4.6 8h-9.2z" fill="#fff" stroke="#555" stroke-width="1.2"/>
<path d="M615.45 2521.61l4.6 8h-9.2z" fill="#fff" stroke="#555" stroke-width="1.2"/>
<path d="M638.20 2522.60l4.6 8h-9.2z" fill="#fff" stroke="#555" stroke-width="1.2"/>
<path d="M660.95 2521.61l4.6 8h-9.2z" fill="#fff" stroke="#555" stroke-width="1.2"/>
<path d="M683.52 2518.63l4.6 8h-9.2z" fill="#fff" stroke="#555" stroke-width="1.2"/>
<path d="M705.75 2513.71l4.6 8h-9.2z" fill="#fff" stroke="#555" stroke-width="1.2"/>
<path d="M727.47 2506.86l4.6 8h-9.2z" fill="#fff" stroke="#555" stroke-width="1.2"/>
<path d="M748.50 2498.15l4.6 8h-9.2z" fill="#fff" stroke="#555" stroke-width="1.2"/>
<path d="M768.70 2487.63l4.6 8h-9.2z" fill="#fff" stroke="#555" stroke-width="1.2"/>
<path d="M787.90 2475.40l4.6 8h-9.2z" fill="#fff" stroke="#555" stroke-width="1.2"/>
<path d="M805.97 2461.54l4.6 8h-9.2z" fill="#fff" stroke="#555" stroke-width="1.2"/>
<path d="M822.75 2446.15l4.6 8h-9.2z" fill="#fff" stroke="#555" stroke-width="1.2"/>
<path d="M838.14 2429.37l4.6 8h-9.2z" fill="#fff" stroke="#555" stroke-width="1.2"/>
<path d="M852.00 2411.30l4.6 8h-9.2z" fill="#fff" stroke="#555" stroke-width="1.2"/>
<path d="M864.23 2392.10l4.6 8h-9.2z" fill="#fff" stroke="#555" stroke-width="1.2"/>
<path d="M874.75 2371.90l4.6 8h-9.2z" fill="#fff" stroke="#555" stroke-width="1.2"/>
<path d="M883.46 2350.87l4.6 8h-9.2z" fill="#fff" stroke="#555" stroke-width="1.2"/>
<path d="M890.31 2329.15l4.6 8h-9.2z" fill="#fff" stroke="#555" stroke-width="1.2"/>
<path d="M895.23 2306.92l4.6 8h-9.2z" fill="#fff" stroke="#555" stroke-width="1.2"/>
<path d="M898.21 2284.35l4.6 8h-9.2z" fill="#fff" stroke="#555" stroke-width="1.2"/>
<path d="M898.50 2266.40 L897.51 2243.71 L894.55 2221.20 L889.63 2199.03 L882.80 2177.37 L874.11 2156.39 L863.63 2136.25 L851.43 2117.10 L837.60 2099.08 L822.26 2082.34 L805.52 2067.00 L787.50 2053.17 L768.35 2040.97 L748.21 2030.49 L727.23 2021.80 L705.57 2014.97 L683.40 2010.05 L660.89 2007.09 L638.20 2006.10 L615.51 2007.09 L593.00 2010.05 L570.83 2014.97 L549.17 2021.80 L528.19 2030.49 L508.05 2040.97 L488.90 2053.17 L470.88 2067.00 L454.14 2082.34 L438.80 2099.08 L424.97 2117.10 L412.77 2136.25 L402.29 2156.39 L393.60 2177.37 L386.77 2199.03 L381.85 2221.20 L378.89 2243.71 L377.90 2266.40 L378.89 2289.09 L381.85 2311.60 L386.77 2333.77 L393.60 2355.43 L402.29 2376.41 L412.77 2396.55 L424.97 2415.70 L438.80 2433.72 L454.14 2450.46 L470.88 2465.80 L488.90 2479.63 L508.05 2491.83 L528.19 2502.31 L549.17 2511.00 L570.83 2517.83 L593.00 2522.75 L615.51 2525.71 L638.20 2526.70 L660.89 2525.71 L683.40 2522.75 L705.57 2517.83 L727.23 2511.00 L748.21 2502.31 L768.35 2491.83 L787.50 2479.63 L805.52 2465.80 L822.26 2450.46 L837.60 2433.72 L851.43 2415.70 L863.63 2396.55 L874.11 2376.41 L882.80 2355.43 L889.63 2333.77 L894.55 2311.60 L897.51 2289.09 Z" fill="none" stroke="#111" stroke-width="1.70" stroke-linejoin="round"/>
<path d="M898.50 2271.20l4.6 -8h-9.2z" fill="none" stroke="#222" stroke-width="1.2"/>
<path d="M897.51 2248.51l4.6 -8h-9.2z" fill="none" stroke="#222" stroke-width="1.2"/>
<path d="M894.55 2226.00l4.6 -8h-9.2z" fill="none" stroke="#222" stroke-width="1.2"/>
<path d="M889.63 2203.83l4.6 -8h-9.2z" fill="none" stroke="#222" stroke-width="1.2"/>
<path d="M882.80 2182.17l4.6 -8h-9.2z" fill="none" stroke="#222" stroke-width="1.2"/>
<path d="M874.11 2161.19l4.6 -8h-9.2z" fill="none" stroke="#222" stroke-width="1.2"/>
<path d="M863.63 2141.05l4.6 -8h-9.2z" fill="none" stroke="#222" stroke-width="1.2"/>
<path d="M851.43 2121.90l4.6 -8h-9.2z" fill="none" stroke="#222" stroke-width="1.2"/>
<path d="M837.60 2103.88l4.6 -8h-9.2z" fill="none" stroke="#222" stroke-width="1.2"/>
<path d="M822.26 2087.14l4.6 -8h-9.2z" fill="none" stroke="#222" stroke-width="1.2"/>
<path d="M805.52 2071.80l4.6 -8h-9.2z" fill="none" stroke="#222" stroke-width="1.2"/>
<path d="M787.50 2057.97l4.6 -8h-9.2z" fill="none" stroke="#222" stroke-width="1.2"/>
<path d="M768.35 2045.77l4.6 -8h-9.2z" fill="none" stroke="#222" stroke-width="1.2"/>
<path d="M748.21 2035.29l4.6 -8h-9.2z" fill="none" stroke="#222" stroke-width="1.2"/>
<path d="M727.23 2026.60l4.6 -8h-9.2z" fill="none" stroke="#222" stroke-width="1.2"/>
<path d="M705.57 2019.77l4.6 -8h-9.2z" fill="none" stroke="#222" stroke-width="1.2"/>
<path d="M683.40 2014.85l4.6 -8h-9.2z" fill="none" stroke="#222" stroke-width="1.2"/>
<path d="M660.89 2011.89l4.6 -8h-9.2z" fill="none" stroke="#222" stroke-width="1.2"/>
<path d="M638.20 2010.90l4.6 -8h-9.2z" fill="none" stroke="#222" stroke-width="1.2"/>
<path d="M615.51 2011.89l4.6 -8h-9.2z" fill="none" stroke="#222" stroke-width="1.2"/>
<path d="M593.00 2014.85l4.6 -8h-9.2z" fill="none" stroke="#222" stroke-width="1.2"/>
<path d="M570.83 2019.77l4.6 -8h-9.2z" fill="none" stroke="#222" stroke-width="1.2"/>
<path d="M549.17 2026.60l4.6 -8h-9.2z" fill="none" stroke="#222" stroke-width="1.2"/>
<path d="M528.19 2035.29l4.6 -8h-9.2z" fill="none" stroke="#222" stroke-width="1.2"/>
<path d="M508.05 2045.77l4.6 -8h-9.2z" fill="none" stroke="#222" stroke-width="1.2"/>
<path d="M488.90 2057.97l4.6 -8h-9.2z" fill="none" stroke="#222" stroke-width="1.2"/>
<path d="M470.88 2071.80l4.6 -8h-9.2z" fill="none" stroke="#222" stroke-width="1.2"/>
<path d="M454.14 2087.14l4.6 -8h-9.2z" fill="none" stroke="#222" stroke-width="1.2"/>
<path d="M438.80 2103.88l4.6 -8h-9.2z" fill="none" stroke="#222" stroke-width="1.2"/>
<path d="M424.97 2121.90l4.6 -8h-9.2z" fill="none" stroke="#222" stroke-width="1.2"/>
<path d="M412.77 2141.05l4.6 -8h-9.2z" fill="none" stroke="#222" stroke-width="1.2"/>
<path d="M402.29 2161.19l4.6 -8h-9.2z" fill="none" stroke="#222" stroke-width="1.2"/>
<path d="M393.60 2182.17l4.6 -8h-9.2z" fill="none" stroke="#222" stroke-width="1.2"/>
<path d="M386.77 2203.83l4.6 -8h-9.2z" fill="none" stroke="#222" stroke-width="1.2"/>
<path d="M381.85 2226.00l4.6 -8h-9.2z" fill="none" stroke="#222" stroke-width="1.2"/>
<path d="M378.89 2248.51l4.6 -8h-9.2z" fill="none" stroke="#222" stroke-width="1.2"/>
<path d="M377.90 2271.20l4.6 -8h-9.2z" fill="none" stroke="#222" stroke-width="1.2"/>
<path d="M378.89 2293.89l4.6 -8h-9.2z" fill="none" stroke="#222" stroke-width="1.2"/>
<path d="M381.85 2316.40l4.6 -8h-9.2z" fill="none" stroke="#222" stroke-width="1.2"/>
<path d="M386.77 2338.57l4.6 -8h-9.2z" fill="none" stroke="#222" stroke-width="1.2"/>
<path d="M393.60 2360.23l4.6 -8h-9.2z" fill="none" stroke="#222" stroke-width="1.2"/>
<path d="M402.29 2381.21l4.6 -8h-9.2z" fill="none" stroke="#222" stroke-width="1.2"/>
<path d="M412.77 2401.35l4.6 -8h-9.2z" fill="none" stroke="#222" stroke-width="1.2"/>
<path d="M424.97 2420.50l4.6 -8h-9.2z" fill="none" stroke="#222" stroke-width="1.2"/>
<path d="M438.80 2438.52l4.6 -8h-9.2z" fill="none" stroke="#222" stroke-width="1.2"/>
<path d="M454.14 2455.26l4.6 -8h-9.2z" fill="none" stroke="#222" stroke-width="1.2"/>
<path d="M470.88 2470.60l4.6 -8h-9.2z" fill="none" stroke="#222" stroke-width="1.2"/>
<path d="M488.90 2484.43l4.6 -8h-9.2z" fill="none" stroke="#222" stroke-width="1.2"/>
<path d="M508.05 2496.63l4.6 -8h-9.2z" fill="none" stroke="#222" stroke-width="1.2"/>
<path d="M528.19 2507.11l4.6 -8h-9.2z" fill="none" stroke="#222" stroke-width="1.2"/>
<path d="M549.17 2515.80l4.6 -8h-9.2z" fill="none" stroke="#222" stroke-width="1.2"/>
<path d="M570.83 2522.63l4.6 -8h-9.2z" fill="none" stroke="#222" stroke-width="1.2"/>
<path d="M593.00 2527.55l4.6 -8h-9.2z" fill="none" stroke="#222" stroke-width="1.2"/>
<path d="M615.51 2530.51l4.6 -8h-9.2z" fill="none" stroke="#222" stroke-width="1.2"/>
<path d="M638.20 2531.50l4.6 -8h-9.2z" fill="none" stroke="#222" stroke-width="1.2"/>
<path d="M660.89 2530.51l4.6 -8h-9.2z" fill="none" stroke="#222" stroke-width="1.2"/>
<path d="M683.40 2527.55l4.6 -8h-9.2z" fill="none" stroke="#222" stroke-width="1.2"/>
<path d="M705.57 2522.63l4.6 -8h-9.2z" fill="none" stroke="#222" stroke-width="1.2"/>
<path d="M727.23 2515.80l4.6 -8h-9.2z" fill="none" stroke="#222" stroke-width="1.2"/>
<path d="M748.21 2507.11l4.6 -8h-9.2z" fill="none" stroke="#222" stroke-width="1.2"/>
<path d="M768.35 2496.63l4.6 -8h-9.2z" fill="none" stroke="#222" stroke-width="1.2"/>
<path d="M787.50 2484.43l4.6 -8h-9.2z" fill="none" stroke="#222" stroke-width="1.2"/>
<path d="M805.52 2470.60l4.6 -8h-9.2z" fill="none" stroke="#222" stroke-width="1.2"/>
<path d="M822.26 2455.26l4.6 -8h-9.2z" fill="none" stroke="#222" stroke-width="1.2"/>
<path d="M837.60 2438.52l4.6 -8h-9.2z" fill="none" stroke="#222" stroke-width="1.2"/>
<path d="M851.43 2420.50l4.6 -8h-9.2z" fill="none" stroke="#222" stroke-width="1.2"/>
<path d="M863.63 2401.35l4.6 -8h-9.2z" fill="none" stroke="#222" stroke-width="1.2"/>
<path d="M874.11 2381.21l4.6 -8h-9.2z" fill="none" stroke="#222" stroke-width="1.2"/>
<path d="M882.80 2360.23l4.6 -8h-9.2z" fill="none" stroke="#222" stroke-width="1.2"/>
<path d="M889.63 2338.57l4.6 -8h-9.2z" fill="none" stroke="#222" stroke-width="1.2"/>
<path d="M894.55 2316.40l4.6 -8h-9.2z" fill="none" stroke="#222" stroke-width="1.2"/>
<path d="M897.51 2293.89l4.6 -8h-9.2z" fill="none" stroke="#222" stroke-width="1.2"/>
<path d="M199.3 1909.5 H187.0 V2216.9 H199.3" fill="none" stroke="#000" stroke-width="2.2"/>
<line x1="187.0" y1="1971.0" x2="199.3" y2="1971.0" stroke="#000" stroke-width="2.2"/>
<line x1="187.0" y1="2032.5" x2="199.3" y2="2032.5" stroke="#000" stroke-width="2.2"/>
<line x1="187.0" y1="2093.9" x2="199.3" y2="2093.9" stroke="#000" stroke-width="2.2"/>
<line x1="187.0" y1="2155.4" x2="199.3" y2="2155.4" stroke="#000" stroke-width="2.2"/>
<line x1="206.9" y1="1908.9" x2="225.9" y2="1908.9" stroke="#000" stroke-width="2"/>
<line x1="206.9" y1="1970.4" x2="225.9" y2="1970.4" stroke="#000" stroke-width="2"/>
<line x1="206.9" y1="2033.4" x2="225.9" y2="2033.4" stroke="#000" stroke-width="2"/>
<g transform="matrix(0 -0.3198 0.3500 0 124.60 2194.04)" fill="none" stroke="#000" stroke-width="7.43"><path d="M16 6 V90"/><path d="M16 46 H44"/><path d="M2 98 L48 82"/><path d="M58 2 V86 Q58 92 66 92 H98 V76"/><path d="M94 26 L60 54"/></g>
<g transform="matrix(0 -0.3854 0.3635 0 124.07 2241.37)" fill="none" stroke="#000" stroke-width="7.15"><path d="M2 32 H44"/><path d="M23 2 V98"/><path d="M22 38 L2 78"/><path d="M26 48 L42 62"/><path d="M62 6 L46 44"/><path d="M72 8 L98 46"/><path d="M70 50 L50 90 L92 84"/><path d="M80 66 L96 92"/></g>
<g transform="matrix(0 -0.4145 0.3760 0 123.75 2285.57)" fill="none" stroke="#000" stroke-width="6.91"><path d="M14 12 L26 26"/><path d="M8 40 L22 50"/><path d="M5 90 L22 62"/><path d="M60 2 L52 18"/><path d="M36 21 V98"/><path d="M36 21 H88 V98"/><path d="M36 58 H88"/><path d="M36 94 H88"/></g>
<line x1="1010" y1="1916.6" x2="1030.5" y2="1916.6" stroke="#000" stroke-width="2.2"/>
<line x1="1004.4" y1="1986.5" x2="1052.8" y2="1986.5" stroke="#777" stroke-width="1.8"/>
<rect x="1024.50" y="1983.00" width="7" height="7" fill="#fff" stroke="#444" stroke-width="1.1"/>
<line x1="1004.4" y1="2030.7" x2="1052.8" y2="2030.7" stroke="#aaa" stroke-width="1.8"/>
<circle cx="1028.00" cy="2030.70" r="3.8" fill="#fff" stroke="#aaa" stroke-width="1.1"/>
<line x1="1004.4" y1="2075.5" x2="1052.8" y2="2075.5" stroke="#333" stroke-width="1.8"/>
<path d="M1028.00 2070.70l4.6 8h-9.2z" fill="#fff" stroke="#999" stroke-width="1.1"/>
<line x1="1004.4" y1="2119.3" x2="1052.8" y2="2119.3" stroke="#222" stroke-width="1.8"/>
<path d="M1028.00 2124.10l4.6 -8h-9.2z" fill="none" stroke="#bbb" stroke-width="1.1"/>
<g transform="matrix(0.3958 0 0 0.3729 568.16 806.50)" fill="none" stroke="#000" stroke-width="6.32"><path d="M10 6 V80 Q10 92 2 98"/><path d="M10 6 H38 V94 L32 90"/><path d="M10 34 H38"/><path d="M10 60 H38"/><path d="M58 2 L46 28"/><path d="M54 18 H96 V60 L88 58"/><path d="M54 36 H80 V58 H55 V86 Q55 90 62 90 H98 V76"/></g>
<g transform="matrix(0.3729 0 0 0.3705 612.00 806.75)" fill="none" stroke="#000" stroke-width="6.70"><path d="M18 10 H82"/><path d="M2 40 H98"/><path d="M38 40 Q38 82 2 98"/><path d="M62 40 V86 Q62 92 70 92 H98 V74"/></g>
<g transform="matrix(0.3693 0 0 0.3729 655.43 806.50)" fill="none" stroke="#000" stroke-width="6.77"><path d="M26 2 L18 18"/><path d="M6 20 V96"/><path d="M6 20 H42 V96"/><path d="M6 56 H42"/><path d="M6 92 H42"/><path d="M64 2 L48 36"/><path d="M56 22 H94 V86 Q94 98 78 96"/><path d="M62 48 L76 66"/></g>
<g transform="matrix(0.4048 0 0 0.3729 698.33 806.50)" fill="none" stroke="#000" stroke-width="6.18"><path d="M14 12 L26 26"/><path d="M8 40 L22 50"/><path d="M5 90 L22 62"/><path d="M60 2 L52 18"/><path d="M36 21 V98"/><path d="M36 21 H88 V98"/><path d="M36 58 H88"/><path d="M36 94 H88"/></g>
<g transform="matrix(0.3958 0 0 0.3729 738.96 806.50)" fill="none" stroke="#000" stroke-width="6.32"><path d="M2 32 H44"/><path d="M23 2 V98"/><path d="M22 38 L2 78"/><path d="M26 48 L42 62"/><path d="M62 6 L46 44"/><path d="M72 8 L98 46"/><path d="M70 50 L50 90 L92 84"/><path d="M80 66 L96 92"/></g>
<g transform="matrix(0.3052 0 0 0.3729 786.24 806.50)" fill="none" stroke="#000" stroke-width="8.19"><path d="M16 6 V90"/><path d="M16 46 H44"/><path d="M2 98 L48 82"/><path d="M58 2 V86 Q58 92 66 92 H98 V76"/><path d="M94 26 L60 54"/></g>
<g transform="matrix(0.3958 0 0 0.3729 573.46 1740.90)" fill="none" stroke="#000" stroke-width="6.32"><path d="M10 6 V80 Q10 92 2 98"/><path d="M10 6 H38 V94 L32 90"/><path d="M10 34 H38"/><path d="M10 60 H38"/><path d="M58 2 L46 28"/><path d="M54 18 H96 V60 L88 58"/><path d="M54 36 H80 V58 H55 V86 Q55 90 62 90 H98 V76"/></g>
<g transform="matrix(0.3729 0 0 0.3705 616.74 1741.15)" fill="none" stroke="#000" stroke-width="6.70"><path d="M18 10 H82"/><path d="M2 40 H98"/><path d="M38 40 Q38 82 2 98"/><path d="M62 40 V86 Q62 92 70 92 H98 V74"/></g>
<g transform="matrix(0.3693 0 0 0.3729 659.61 1740.90)" fill="none" stroke="#000" stroke-width="6.77"><path d="M26 2 L18 18"/><path d="M6 20 V96"/><path d="M6 20 H42 V96"/><path d="M6 56 H42"/><path d="M6 92 H42"/><path d="M64 2 L48 36"/><path d="M56 22 H94 V86 Q94 98 78 96"/><path d="M62 48 L76 66"/></g>
<g transform="matrix(0.4048 0 0 0.3729 701.95 1740.90)" fill="none" stroke="#000" stroke-width="6.18"><path d="M14 12 L26 26"/><path d="M8 40 L22 50"/><path d="M5 90 L22 62"/><path d="M60 2 L52 18"/><path d="M36 21 V98"/><path d="M36 21 H88 V98"/><path d="M36 58 H88"/><path d="M36 94 H88"/></g>
<g transform="matrix(0.3958 0 0 0.3729 742.02 1740.90)" fill="none" stroke="#000" stroke-width="6.32"><path d="M2 32 H44"/><path d="M23 2 V98"/><path d="M22 38 L2 78"/><path d="M26 48 L42 62"/><path d="M62 6 L46 44"/><path d="M72 8 L98 46"/><path d="M70 50 L50 90 L92 84"/><path d="M80 66 L96 92"/></g>
<g transform="matrix(0.3052 0 0 0.3729 788.74 1740.90)" fill="none" stroke="#000" stroke-width="8.19"><path d="M16 6 V90"/><path d="M16 46 H44"/><path d="M2 98 L48 82"/><path d="M58 2 V86 Q58 92 66 92 H98 V76"/><path d="M94 26 L60 54"/></g>
<g transform="matrix(0.3958 0 0 0.3729 573.46 2669.60)" fill="none" stroke="#000" stroke-width="6.32"><path d="M10 6 V80 Q10 92 2 98"/><path d="M10 6 H38 V94 L32 90"/><path d="M10 34 H38"/><path d="M10 60 H38"/><path d="M58 2 L46 28"/><path d="M54 18 H96 V60 L88 58"/><path d="M54 36 H80 V58 H55 V86 Q55 90 62 90 H98 V76"/></g>
<g transform="matrix(0.3729 0 0 0.3705 616.74 2669.85)" fill="none" stroke="#000" stroke-width="6.70"><path d="M18 10 H82"/><path d="M2 40 H98"/><path d="M38 40 Q38 82 2 98"/><path d="M62 40 V86 Q62 92 70 92 H98 V74"/></g>
<g transform="matrix(0.3693 0 0 0.3729 659.61 2669.60)" fill="none" stroke="#000" stroke-width="6.77"><path d="M26 2 L18 18"/><path d="M6 20 V96"/><path d="M6 20 H42 V96"/><path d="M6 56 H42"/><path d="M6 92 H42"/><path d="M64 2 L48 36"/><path d="M56 22 H94 V86 Q94 98 78 96"/><path d="M62 48 L76 66"/></g>
<g transform="matrix(0.4048 0 0 0.3729 701.95 2669.60)" fill="none" stroke="#000" stroke-width="6.18"><path d="M14 12 L26 26"/><path d="M8 40 L22 50"/><path d="M5 90 L22 62"/><path d="M60 2 L52 18"/><path d="M36 21 V98"/><path d="M36 21 H88 V98"/><path d="M36 58 H88"/><path d="M36 94 H88"/></g>
<g transform="matrix(0.3958 0 0 0.3729 742.02 2669.60)" fill="none" stroke="#000" stroke-width="6.32"><path d="M2 32 H44"/><path d="M23 2 V98"/><path d="M22 38 L2 78"/><path d="M26 48 L42 62"/><path d="M62 6 L46 44"/><path d="M72 8 L98 46"/><path d="M70 50 L50 90 L92 84"/><path d="M80 66 L96 92"/></g>
<g transform="matrix(0.3052 0 0 0.3729 788.74 2669.60)" fill="none" stroke="#000" stroke-width="8.19"><path d="M16 6 V90"/><path d="M16 46 H44"/><path d="M2 98 L48 82"/><path d="M58 2 V86 Q58 92 66 92 H98 V76"/><path d="M94 26 L60 54"/></g>
<text transform="matrix(0.10680 0 0 0.09800 618.84 49.51)" font-size="400" stroke="#000" stroke-width="3.42">90</text>
<text transform="matrix(0.09933 0 0 0.10055 337.67 152.20)" font-size="400" stroke="#000" stroke-width="3.50">135</text>
<text transform="matrix(0.10216 0 0 0.09982 890.44 156.00)" font-size="400" stroke="#000" stroke-width="3.47">45</text>
<text transform="matrix(0.10166 0 0 0.09982 226.90 421.00)" font-size="400" stroke="#000" stroke-width="3.47">180</text>
<text transform="matrix(0.10371 0 0 0.09800 994.98 415.51)" font-size="400" stroke="#000" stroke-width="3.47">0</text>
<text transform="matrix(0.10270 0 0 0.09945 328.69 677.90)" font-size="400" stroke="#000" stroke-width="3.46">225</text>
<text transform="matrix(0.10189 0 0 0.09945 889.96 682.90)" font-size="400" stroke="#000" stroke-width="3.48">315</text>
<text transform="matrix(0.10600 0 0 0.10055 606.75 789.20)" font-size="400" stroke="#000" stroke-width="3.39">270</text>
<text transform="matrix(0.09677 0 0 0.10091 229.95 55.19)" font-size="400" stroke="#000" stroke-width="3.54">1.5</text>
<text transform="matrix(0.10093 0 0 0.10164 229.82 117.19)" font-size="400" stroke="#000" stroke-width="3.46">1.0</text>
<text transform="matrix(0.10158 0 0 0.10127 227.61 180.19)" font-size="400" stroke="#000" stroke-width="3.45">0.5</text>
<text transform="matrix(0.11171 0 0 0.10127 204.28 243.19)" font-size="400" stroke="#000" stroke-width="3.29">0</text>
<text transform="matrix(0.10158 0 0 0.10127 204.41 306.19)" font-size="400" stroke="#000" stroke-width="3.45">0.5</text>
<text transform="matrix(0.10071 0 0 0.10127 206.73 369.19)" font-size="400" stroke="#000" stroke-width="3.47">1.0</text>
<text transform="matrix(0.10040 0 0 0.10743 1005.83 84.40)" font-size="400" stroke="#000" stroke-width="3.85" font-style="italic">E</text>
<text transform="matrix(0.05587 0 0 0.04720 1030.58 97.92)" font-size="400" stroke="#000" stroke-width="2.91">xx</text>
<text transform="matrix(0.10032 0 0 0.10055 1059.92 130.20)" font-size="400" stroke="#000" stroke-width="3.48">0.001</text>
<text transform="matrix(0.10185 0 0 0.09982 1059.80 174.00)" font-size="400" stroke="#000" stroke-width="3.47">0.05</text>
<text transform="matrix(0.09803 0 0 0.09982 1059.85 217.80)" font-size="400" stroke="#000" stroke-width="3.54">0.1</text>
<text transform="matrix(0.10185 0 0 0.09691 1059.80 262.52)" font-size="400" stroke="#000" stroke-width="3.52">0.15</text>
<text transform="matrix(0.10680 0 0 0.09800 618.84 981.01)" font-size="400" stroke="#000" stroke-width="3.42">90</text>
<text transform="matrix(0.09933 0 0 0.10055 337.67 1083.70)" font-size="400" stroke="#000" stroke-width="3.50">135</text>
<text transform="matrix(0.10216 0 0 0.09982 890.44 1087.50)" font-size="400" stroke="#000" stroke-width="3.47">45</text>
<text transform="matrix(0.10166 0 0 0.09982 226.90 1352.50)" font-size="400" stroke="#000" stroke-width="3.47">180</text>
<text transform="matrix(0.10371 0 0 0.09800 994.98 1347.01)" font-size="400" stroke="#000" stroke-width="3.47">0</text>
<text transform="matrix(0.10270 0 0 0.09945 328.69 1609.40)" font-size="400" stroke="#000" stroke-width="3.46">225</text>
<text transform="matrix(0.10189 0 0 0.09945 889.96 1614.40)" font-size="400" stroke="#000" stroke-width="3.48">315</text>
<text transform="matrix(0.10600 0 0 0.10055 606.75 1720.70)" font-size="400" stroke="#000" stroke-width="3.39">270</text>
<text transform="matrix(0.09677 0 0 0.10091 229.95 986.99)" font-size="400" stroke="#000" stroke-width="3.54">1.5</text>
<text transform="matrix(0.10093 0 0 0.10164 229.82 1048.99)" font-size="400" stroke="#000" stroke-width="3.46">1.0</text>
<text transform="matrix(0.10158 0 0 0.10127 227.61 1111.99)" font-size="400" stroke="#000" stroke-width="3.45">0.5</text>
<text transform="matrix(0.11171 0 0 0.10127 204.28 1174.99)" font-size="400" stroke="#000" stroke-width="3.29">0</text>
<text transform="matrix(0.10158 0 0 0.10127 204.41 1237.99)" font-size="400" stroke="#000" stroke-width="3.45">0.5</text>
<text transform="matrix(0.10071 0 0 0.10127 206.73 1300.99)" font-size="400" stroke="#000" stroke-width="3.47">1.0</text>
<text transform="matrix(0.10040 0 0 0.10743 1005.83 1012.40)" font-size="400" stroke="#000" stroke-width="3.85" font-style="italic">E</text>
<text transform="matrix(0.05587 0 0 0.04720 1030.58 1025.92)" font-size="400" stroke="#000" stroke-width="2.91">xx</text>
<text transform="matrix(0.10032 0 0 0.10055 1059.92 1058.20)" font-size="400" stroke="#000" stroke-width="3.48">0.001</text>
<text transform="matrix(0.10185 0 0 0.09982 1059.80 1102.00)" font-size="400" stroke="#000" stroke-width="3.47">0.05</text>
<text transform="matrix(0.09803 0 0 0.09982 1059.85 1145.80)" font-size="400" stroke="#000" stroke-width="3.54">0.1</text>
<text transform="matrix(0.10185 0 0 0.09691 1059.80 1190.52)" font-size="400" stroke="#000" stroke-width="3.52">0.15</text>
<text transform="matrix(0.10680 0 0 0.09800 618.84 1912.01)" font-size="400" stroke="#000" stroke-width="3.42">90</text>
<text transform="matrix(0.09933 0 0 0.10055 337.67 2014.70)" font-size="400" stroke="#000" stroke-width="3.50">135</text>
<text transform="matrix(0.10216 0 0 0.09982 890.44 2018.50)" font-size="400" stroke="#000" stroke-width="3.47">45</text>
<text transform="matrix(0.10166 0 0 0.09982 226.90 2283.50)" font-size="400" stroke="#000" stroke-width="3.47">180</text>
<text transform="matrix(0.10371 0 0 0.09800 994.98 2278.01)" font-size="400" stroke="#000" stroke-width="3.47">0</text>
<text transform="matrix(0.10270 0 0 0.09945 328.69 2540.40)" font-size="400" stroke="#000" stroke-width="3.46">225</text>
<text transform="matrix(0.10189 0 0 0.09945 889.96 2545.40)" font-size="400" stroke="#000" stroke-width="3.48">315</text>
<text transform="matrix(0.10600 0 0 0.10055 606.75 2651.70)" font-size="400" stroke="#000" stroke-width="3.39">270</text>
<text transform="matrix(0.09677 0 0 0.10091 229.95 1917.79)" font-size="400" stroke="#000" stroke-width="3.54">1.5</text>
<text transform="matrix(0.10093 0 0 0.10164 229.82 1979.79)" font-size="400" stroke="#000" stroke-width="3.46">1.0</text>
<text transform="matrix(0.10158 0 0 0.10127 227.61 2042.79)" font-size="400" stroke="#000" stroke-width="3.45">0.5</text>
<text transform="matrix(0.11171 0 0 0.10127 204.28 2105.79)" font-size="400" stroke="#000" stroke-width="3.29">0</text>
<text transform="matrix(0.10158 0 0 0.10127 204.41 2168.79)" font-size="400" stroke="#000" stroke-width="3.45">0.5</text>
<text transform="matrix(0.10071 0 0 0.10127 206.73 2231.79)" font-size="400" stroke="#000" stroke-width="3.47">1.0</text>
<text transform="matrix(0.10040 0 0 0.10743 1005.83 1953.40)" font-size="400" stroke="#000" stroke-width="3.85" font-style="italic">E</text>
<text transform="matrix(0.05587 0 0 0.04720 1030.58 1966.92)" font-size="400" stroke="#000" stroke-width="2.91">xx</text>
<text transform="matrix(0.10032 0 0 0.10055 1059.92 1999.20)" font-size="400" stroke="#000" stroke-width="3.48">0.001</text>
<text transform="matrix(0.10185 0 0 0.09982 1059.80 2043.00)" font-size="400" stroke="#000" stroke-width="3.47">0.05</text>
<text transform="matrix(0.09803 0 0 0.09982 1059.85 2086.80)" font-size="400" stroke="#000" stroke-width="3.54">0.1</text>
<text transform="matrix(0.10185 0 0 0.09691 1059.80 2131.52)" font-size="400" stroke="#000" stroke-width="3.52">0.15</text>
<text transform="matrix(0.09647 0 0 0.09939 460.87 837.43)" font-size="400" stroke="#000" stroke-width="3.57">(a) HC</text>
<text transform="matrix(0.09957 0 0 0.10013 402.33 887.36)" font-size="400" stroke="#000" stroke-width="3.51">(a) Poisson ’ s ratio of HC cell</text>
<text transform="matrix(0.10438 0 0 0.10183 461.27 1772.51)" font-size="400" stroke="#000" stroke-width="3.39">(b) RE</text>
<text transform="matrix(0.09980 0 0 0.10013 403.43 1823.16)" font-size="400" stroke="#000" stroke-width="3.50">(b) Poisson ’ s ratio of RE cell</text>
<text transform="matrix(0.09599 0 0 0.10183 457.18 2701.21)" font-size="400" stroke="#000" stroke-width="3.54">(c) WC</text>
<text transform="matrix(0.09905 0 0 0.10013 399.24 2751.86)" font-size="400" stroke="#000" stroke-width="3.51">(c) Poisson ’ s ratio of WC cell</text>
</svg></body></html>
